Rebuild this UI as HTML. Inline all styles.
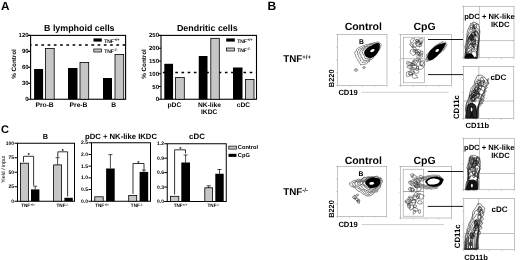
<!DOCTYPE html>
<html><head><meta charset="utf-8">
<style>
html,body{margin:0;padding:0;background:#fff;width:520px;height:260px;overflow:hidden}
svg{display:block;filter:grayscale(1);text-rendering:geometricPrecision;font-family:"Liberation Sans",sans-serif;font-weight:bold}
</style></head><body>
<svg width="520" height="260" viewBox="0 0 520 260">
<!-- ============ PANEL A ============ -->
<text x="0.9" y="9.6" font-size="11.8">A</text>
<!-- chart A1 -->
<text x="79.3" y="31.3" font-size="8.9" text-anchor="middle">B lymphoid cells</text>
<g stroke="#000" stroke-width="1.1" fill="none">
  <rect x="30.6" y="35.4" width="95" height="63.85"/>
  <path d="M27.8 35.4H30.6M27.8 51.4H30.6M27.8 67.3H30.6M27.8 83.3H30.6M27.8 99.25H30.6"/>
</g>
<g font-size="6" text-anchor="end">
  <text x="28.6" y="37.4">120</text><text x="28.6" y="53.4">90</text><text x="28.6" y="69.3">60</text><text x="28.6" y="85.3">30</text><text x="28.6" y="101.25">0</text>
</g>
<text transform="translate(15.6 64) rotate(-90)" font-size="6.3" text-anchor="middle">% Control</text>
<line x1="30.6" y1="45" x2="125" y2="45" stroke="#000" stroke-width="1.4" stroke-dasharray="2.7 3.55" stroke-dashoffset="1.75"/>
<g>
  <rect x="34.1" y="69" width="9" height="30.25" fill="#000"/>
  <rect x="45.4" y="48.4" width="8.8" height="50.85" fill="#c6c6c6" stroke="#000" stroke-width="0.8"/>
  <rect x="68" y="68" width="9.5" height="31.25" fill="#000"/>
  <rect x="80" y="62.4" width="8.7" height="36.85" fill="#c6c6c6" stroke="#000" stroke-width="0.8"/>
  <rect x="103" y="78" width="9" height="21.25" fill="#000"/>
  <rect x="115" y="54.4" width="8.7" height="44.85" fill="#c6c6c6" stroke="#000" stroke-width="0.8"/>
</g>
<rect x="93.5" y="38.4" width="8.3" height="3.2" fill="#000"/>
<rect x="93.8" y="49" width="7.8" height="3" fill="#c6c6c6" stroke="#000" stroke-width="0.7"/>
<text x="104.2" y="42.5" font-size="5">TNF<tspan font-size="4" dy="-2">+/+</tspan></text>
<text x="104.2" y="53.3" font-size="5">TNF<tspan font-size="4" dy="-2">-/-</tspan></text>
<g font-size="6.7" text-anchor="middle">
  <text x="44.6" y="107.2">Pro-B</text><text x="78.5" y="107.2">Pre-B</text><text x="113.6" y="107.2">B</text>
</g>

<!-- chart A2 -->
<text x="207.3" y="31.3" font-size="8.9" text-anchor="middle">Dendritic cells</text>
<g stroke="#000" stroke-width="1.1" fill="none">
  <rect x="161" y="35.4" width="95.5" height="63.85"/>
  <path d="M158.3 35.4H161M158.3 48.2H161M158.3 61H161M158.3 73.7H161M158.3 86.5H161M158.3 99.25H161"/>
</g>
<g font-size="6" text-anchor="end">
  <text x="159" y="37.4">250</text><text x="159" y="50.2">200</text><text x="159" y="63">150</text><text x="159" y="75.7">100</text><text x="159" y="88.5">50</text><text x="159" y="101.25">0</text>
</g>
<text transform="translate(145.6 64) rotate(-90)" font-size="6.3" text-anchor="middle">% Control</text>
<line x1="161.5" y1="72.5" x2="256" y2="72.5" stroke="#000" stroke-width="1.4" stroke-dasharray="2.6 3.6" stroke-dashoffset="4.8"/>
<g>
  <rect x="164.3" y="63.8" width="8.75" height="35.45" fill="#000"/>
  <rect x="175.6" y="77.5" width="8.7" height="21.75" fill="#c6c6c6" stroke="#000" stroke-width="0.8"/>
  <rect x="198.75" y="56" width="8.75" height="43.25" fill="#000"/>
  <rect x="210.8" y="38.3" width="8.5" height="60.95" fill="#c6c6c6" stroke="#000" stroke-width="0.8"/>
  <rect x="233" y="67.5" width="9.5" height="31.75" fill="#000"/>
  <rect x="245.4" y="79.5" width="8.6" height="19.75" fill="#c6c6c6" stroke="#000" stroke-width="0.8"/>
</g>
<rect x="226.2" y="38.4" width="8.6" height="3.2" fill="#000"/>
<rect x="226.5" y="48" width="8" height="3" fill="#c6c6c6" stroke="#000" stroke-width="0.7"/>
<text x="237.2" y="42.5" font-size="5">TNF<tspan font-size="4" dy="-2">+/+</tspan></text>
<text x="237.2" y="52.3" font-size="5">TNF<tspan font-size="4" dy="-2">-/-</tspan></text>
<g font-size="6.7" text-anchor="middle">
  <text x="174.4" y="107.2">pDC</text><text x="209.5" y="107.1">NK-like</text><text x="209.2" y="113.6">IKDC</text><text x="243.4" y="107.2">cDC</text>
</g>

<!-- ============ PANEL C ============ -->
<text x="1" y="132.9" font-size="11">C</text>
<text transform="translate(4.9 169.2) rotate(-90)" font-size="5.2" font-weight="normal" text-anchor="middle">Yield / input</text>
<!-- C1 -->
<text x="45.3" y="138.6" font-size="7.3" text-anchor="middle">B</text>
<g stroke="#000" stroke-width="1" fill="none">
  <rect x="17.5" y="143.25" width="57" height="58"/>
  <path d="M14.5 143.25H17.5M14.5 157.75H17.5M14.5 172.25H17.5M14.5 186.75H17.5M14.5 201.25H17.5"/>
</g>
<g font-size="5" text-anchor="end">
  <text x="14" y="144.8">100</text><text x="14" y="159.3">75</text><text x="14" y="173.8">50</text><text x="14" y="188.3">25</text><text x="14" y="202.8">0</text>
</g>
<rect x="20.4" y="163.2" width="8" height="38" fill="#c6c6c6" stroke="#000" stroke-width="0.8"/>
<rect x="31" y="189.4" width="8.4" height="11.85" fill="#000"/>
<path d="M35.2 189.4V186.2M33.2 186.2H37.2" stroke="#000" stroke-width="0.7" fill="none"/>
<rect x="53.6" y="164.9" width="8" height="36.3" fill="#c6c6c6" stroke="#000" stroke-width="0.8"/>
<path d="M57.6 164.9V157.7M55.6 157.7H59.6" stroke="#000" stroke-width="0.7" fill="none"/>
<rect x="64.4" y="197.8" width="8.4" height="3.45" fill="#000"/>
<path d="M23.5 162V156.3H33.6V185.5M57.8 157V151.8H67.6V196.5" stroke="#000" stroke-width="0.8" fill="none"/>
<g font-size="6" text-anchor="middle"><text x="28.6" y="157">*</text><text x="62.7" y="153">*</text></g>
<g font-size="4.6" text-anchor="middle">
  <text x="28.1" y="207">TNF<tspan font-size="3.3" dy="-1.3">+/+</tspan></text>
  <text x="62.6" y="207">TNF<tspan font-size="3.3" dy="-1.3">-/-</tspan></text>
</g>

<!-- C2 -->
<text x="121" y="138.8" font-size="7.7" text-anchor="middle">pDC + NK-like IKDC</text>
<g stroke="#000" stroke-width="1" fill="none">
  <rect x="91.5" y="142.75" width="59" height="58.5"/>
  <path d="M88.5 142.75H91.5M88.5 154.45H91.5M88.5 166.15H91.5M88.5 177.85H91.5M88.5 189.55H91.5M88.5 201.25H91.5"/>
</g>
<g font-size="5" text-anchor="end">
  <text x="88" y="144.3">2.5</text><text x="88" y="156">2.0</text><text x="88" y="167.7">1.5</text><text x="88" y="179.4">1.0</text><text x="88" y="191.1">0.5</text><text x="88" y="202.8">0.0</text>
</g>
<rect x="94.8" y="196.8" width="8.4" height="4.45" fill="#c6c6c6" stroke="#000" stroke-width="0.8"/>
<rect x="106.1" y="168.5" width="8.6" height="32.75" fill="#000"/>
<path d="M110.4 168.5V154.6M108.4 154.6H112.4" stroke="#000" stroke-width="0.7" fill="none"/>
<rect x="128.7" y="195.4" width="8" height="5.85" fill="#c6c6c6" stroke="#000" stroke-width="0.8"/>
<rect x="139.6" y="171.9" width="8.6" height="29.35" fill="#000"/>
<path d="M143.9 171.9V170.2M141.9 170.2H145.9" stroke="#000" stroke-width="0.7" fill="none"/>
<path d="M133 194V163.5H144V170" stroke="#000" stroke-width="0.8" fill="none"/>
<g font-size="6" text-anchor="middle"><text x="138.3" y="164.5">*</text></g>
<g font-size="4.6" text-anchor="middle">
  <text x="102.1" y="207">TNF<tspan font-size="3.3" dy="-1.3">+/+</tspan></text>
  <text x="136.9" y="207">TNF<tspan font-size="3.3" dy="-1.3">-/-</tspan></text>
</g>

<!-- C3 -->
<text x="197" y="138.6" font-size="7.9" text-anchor="middle">cDC</text>
<g stroke="#000" stroke-width="1" fill="none">
  <rect x="167.25" y="143.75" width="59" height="57.75"/>
  <path d="M164.25 143.75H167.25M164.25 158.2H167.25M164.25 172.6H167.25M164.25 187.1H167.25M164.25 201.5H167.25"/>
</g>
<g font-size="5" text-anchor="end">
  <text x="164" y="145.3">1.2</text><text x="164" y="159.8">0.9</text><text x="164" y="174.2">0.6</text><text x="164" y="188.7">0.3</text><text x="164" y="203.1">0.0</text>
</g>
<rect x="170.4" y="196.3" width="8.4" height="5.2" fill="#c6c6c6" stroke="#000" stroke-width="0.8"/>
<rect x="181.3" y="162.5" width="8.7" height="39" fill="#000"/>
<path d="M185.6 162.5V155M183.6 155H187.6" stroke="#000" stroke-width="0.7" fill="none"/>
<rect x="204.8" y="187.8" width="7.8" height="13.7" fill="#c6c6c6" stroke="#000" stroke-width="0.8"/>
<path d="M208.7 187.8V185.8M206.5 185.8H210.9" stroke="#000" stroke-width="0.7" fill="none"/>
<rect x="215.3" y="173.75" width="8.4" height="27.75" fill="#000"/>
<path d="M219.5 173.75V169.5M217.5 169.5H221.5" stroke="#000" stroke-width="0.7" fill="none"/>
<path d="M174.6 194.5V149.8H185.5V153.5" stroke="#000" stroke-width="0.8" fill="none"/>
<g font-size="6" text-anchor="middle"><text x="180.3" y="151">*</text></g>
<g font-size="4.6" text-anchor="middle">
  <text x="180.6" y="207">TNF<tspan font-size="3.3" dy="-1.3">+/+</tspan></text>
  <text x="213.6" y="207">TNF<tspan font-size="3.3" dy="-1.3">-/-</tspan></text>
</g>
<rect x="228.8" y="146.1" width="7.6" height="3" fill="#c6c6c6" stroke="#000" stroke-width="0.7"/>
<rect x="228.5" y="153.8" width="8" height="3.1" fill="#000"/>
<text x="237.8" y="149.3" font-size="5.7">Control</text>
<text x="237.8" y="157.3" font-size="5.7">CpG</text>

<!-- ============ PANEL B ============ -->
<text x="267.4" y="9.6" font-size="12">B</text>
<text x="283.2" y="62" font-size="9.8">TNF<tspan font-size="6" dy="-3.4">+/+</tspan></text>
<text x="283.2" y="195" font-size="9.8">TNF<tspan font-size="6" dy="-3.4">-/-</tspan></text>

<rect x="337.5" y="34.5" width="49.5" height="50.8" fill="none" stroke="#999" stroke-width="0.6"/>
<line x1="335.9" y1="85.3" x2="337.5" y2="85.3" stroke="#aaa" stroke-width="0.5"/>
<line x1="337.5" y1="85.3" x2="337.5" y2="86.9" stroke="#aaa" stroke-width="0.5"/>
<line x1="335.9" y1="72.6" x2="337.5" y2="72.6" stroke="#aaa" stroke-width="0.5"/>
<line x1="349.9" y1="85.3" x2="349.9" y2="86.9" stroke="#aaa" stroke-width="0.5"/>
<line x1="335.9" y1="59.9" x2="337.5" y2="59.9" stroke="#aaa" stroke-width="0.5"/>
<line x1="362.2" y1="85.3" x2="362.2" y2="86.9" stroke="#aaa" stroke-width="0.5"/>
<line x1="335.9" y1="47.2" x2="337.5" y2="47.2" stroke="#aaa" stroke-width="0.5"/>
<line x1="374.6" y1="85.3" x2="374.6" y2="86.9" stroke="#aaa" stroke-width="0.5"/>
<line x1="335.9" y1="34.5" x2="337.5" y2="34.5" stroke="#aaa" stroke-width="0.5"/>
<line x1="387" y1="85.3" x2="387" y2="86.9" stroke="#aaa" stroke-width="0.5"/>
<path d="M362.2 51.3L362.8 50.3L363.7 50.4L364.2 48.9L365 48.6L365.6 48.9L367.5 47.3L368.3 47.6L368.7 46.8L370.1 46.6L371.1 46.6L371.4 46.4L373.4 46.4L373.7 45.2L373.8 45.2L375.7 45.3L375.6 46.2L376.1 46L376.8 45.6L377.3 47L377.1 46.7L377.7 47L377.5 48.6L377.4 49L377.3 49.2L376.4 50.3L375.9 50.7L375.5 51.5L374 53.2L374.1 53.7L372.7 54.3L371.7 55.5L370.8 55.7L370.4 56.6L370 57.7L369.6 57.7L368.5 58.1L367.1 58.6L366.5 58.3L365.2 58.7L365.5 58.1L365.4 58L364.3 57.3L364.7 56.5L363.9 55.2L363.4 54.9L363 54.2L362.9 53.8L362.5 52.7L362.3 53.1L362.1 51.4Z" fill="none" stroke="#2d2d2d" stroke-width="0.6"/>
<path d="M359.6 51.7L360.9 50.7L361.2 50L361.6 49.1L363.4 48.8L363.9 47.6L365.1 47.6L367.1 46.2L368.6 46.8L369.4 45.9L370 44.8L371.7 44.5L372.5 44.4L373.3 44.5L374.7 44.9L375.8 44.5L376.5 44.8L377.2 44.6L378.5 45.7L378.7 45.9L378.4 45.9L378.8 46.4L379 47.6L378.7 48.4L378.5 49.8L376.6 50L377 51.3L376.3 52.2L374.3 53.6L374.2 54.2L372.4 55.4L372.5 56.9L370.5 57.2L369.5 57.9L369.6 58.6L368.6 59.4L367.4 60.2L366.1 60.3L364.9 60.3L363.8 60.4L364.2 60.4L363 59.9L362.4 58.7L362.7 58L361.3 57.5L360.9 55.6L361.2 55L360.3 54L359.7 53.9L359.7 53.2L359.7 52.3Z" fill="none" stroke="#353535" stroke-width="0.6"/>
<path d="M357.2 52L358.4 50.4L358.5 49.6L359.7 49.1L361.7 48.2L362.9 47.5L363.9 46.5L365.3 46.5L366.7 45.9L368.1 45.1L369.9 44.3L371.9 43.5L372.4 44.1L374.1 43L375.8 43.8L375.9 43.1L376.8 43.2L378.3 43.3L379.2 43.5L379 45.1L379.7 45.4L380.4 46.2L379.7 46.6L379.7 48.8L379.5 49.4L377.9 50.2L377.5 51.7L375.9 52.3L375.1 54L374.5 55.2L372.4 56.9L371.7 57.7L370.3 58.8L369.3 60.3L368.1 60.6L367.4 61.4L366.3 61.4L365.3 62.2L363.5 62.2L362.2 62.3L362 62.4L361.4 61.7L360.5 60.9L360.1 58.9L360 58.6L358.5 56.7L359 55.9L358 54.7L357.3 54.5L358.2 54.1L357.4 52.1Z" fill="none" stroke="#3d3d3d" stroke-width="0.6"/>
<path d="M354.5 52.2L356.1 51.3L356.6 49.3L357.6 48.2L359.9 47.2L361.4 46.5L362.8 45.9L365.1 45.5L365.8 44.4L367.6 44.4L370 43.9L371.7 43.3L373.5 42.9L374 42.8L375.7 42.5L377.1 41.9L377.8 42.2L378.8 42.2L380.4 43.4L381.1 44.1L381.1 45L381.1 45.7L380.9 46.3L380.1 47.9L379.7 49L379.1 50.2L377.6 51.7L376.7 52.7L375.3 54.3L373.8 56.2L373.5 57.4L371.9 59.4L369.8 59.7L369.4 61.9L368.2 61.8L366.9 63.3L366.5 63.9L364 64.3L362.5 64.4L360.6 65.1L360.5 63.9L359.3 63L359.1 62.1L358.2 60.9L357.5 59.1L356.6 58.2L356 56.7L355.5 56.2L355.6 55.1L354.7 53.9L354.8 52.5Z" fill="none" stroke="#464646" stroke-width="0.6"/>
<path d="M364.3 51.5 C366 48.5 371 45.2 376.5 43.3 C379 42.6 380 43.5 379.8 45.5 C379.6 49 378.5 52.5 375.5 55.5 C373 57.8 369.5 58.6 367 57.3 C364.8 56.2 363.6 53.5 364.3 51.5 Z" fill="#000"/>
<path d="M374.4 49.5L374.4 49.8L374.5 50.1L374.4 50.5L374.1 50.8L373.8 51.2L373.5 51.5L373 51.8L372.5 52L372.1 52.1L371.6 52.2L371.2 52.1L370.9 52L370.6 51.9L370.3 51.7L370.2 51.4L370.3 51.1L370.4 50.7L370.6 50.4L371 50L371.4 49.7L371.8 49.5L372.3 49.3L372.7 49.1L373.2 49L373.6 49L374 49.1L374.3 49.3Z" fill="#fff"/>
<path d="M357.2 70L357.1 70.2L356.9 70.4L356.8 70.5L356.7 70.7L356.5 70.9L356.3 70.9L356 70.9L355.7 70.9L355.5 70.8L355.3 70.7L355.1 70.5L355 70.4L354.9 70.2L354.9 70L354.9 69.8L354.9 69.6L355 69.4L355.3 69.3L355.5 69.3L355.8 69.2L356 69.1L356.3 69.1L356.5 69.2L356.7 69.3L356.9 69.4L357.1 69.6L357.1 69.8Z" fill="none" stroke="#444" stroke-width="0.45"/>
<path d="M357.9 70L357.9 70.3L357.7 70.7L357.5 70.9L357.1 71.1L356.7 71.2L356.4 71.3L356 71.4L355.6 71.3L355.3 71.1L354.9 71.1L354.4 71L354.1 70.7L354.2 70.3L354.3 70L354.4 69.7L354.5 69.4L354.7 69.2L354.9 68.9L355.2 68.7L355.6 68.6L356 68.6L356.4 68.6L356.9 68.6L357.1 68.9L357.2 69.3L357.3 69.5L357.7 69.7Z" fill="none" stroke="#444" stroke-width="0.45"/>
<path d="M364.9 67.5L364.9 67.7L364.8 67.8L364.7 67.9L364.5 68L364.4 68.1L364.2 68.1L364 68.1L363.8 68.1L363.7 68L363.5 68L363.3 67.9L363.1 67.8L363.2 67.6L363.2 67.5L363.2 67.4L363.3 67.2L363.4 67.1L363.5 67L363.6 66.9L363.8 66.8L364 66.8L364.2 66.8L364.4 66.9L364.5 67L364.6 67.1L364.7 67.2L364.8 67.4Z" fill="none" stroke="#444" stroke-width="0.45"/>
<path d="M365.5 67.5L365.4 67.7L365.2 67.9L365 68.1L364.8 68.3L364.5 68.4L364.3 68.4L364 68.4L363.7 68.4L363.5 68.4L363.2 68.3L362.8 68.2L362.6 68L362.7 67.7L362.9 67.5L362.9 67.3L362.9 67.1L363 66.9L363.2 66.7L363.4 66.6L363.7 66.5L364 66.4L364.3 66.5L364.6 66.6L364.8 66.7L364.9 67L365 67.1L365.3 67.3Z" fill="none" stroke="#444" stroke-width="0.45"/>
<rect x="400.5" y="34.5" width="50.8" height="51" fill="none" stroke="#999" stroke-width="0.6"/>
<line x1="398.9" y1="85.5" x2="400.5" y2="85.5" stroke="#aaa" stroke-width="0.5"/>
<line x1="400.5" y1="85.5" x2="400.5" y2="87.1" stroke="#aaa" stroke-width="0.5"/>
<line x1="398.9" y1="72.8" x2="400.5" y2="72.8" stroke="#aaa" stroke-width="0.5"/>
<line x1="413.2" y1="85.5" x2="413.2" y2="87.1" stroke="#aaa" stroke-width="0.5"/>
<line x1="398.9" y1="60" x2="400.5" y2="60" stroke="#aaa" stroke-width="0.5"/>
<line x1="425.9" y1="85.5" x2="425.9" y2="87.1" stroke="#aaa" stroke-width="0.5"/>
<line x1="398.9" y1="47.2" x2="400.5" y2="47.2" stroke="#aaa" stroke-width="0.5"/>
<line x1="438.6" y1="85.5" x2="438.6" y2="87.1" stroke="#aaa" stroke-width="0.5"/>
<line x1="398.9" y1="34.5" x2="400.5" y2="34.5" stroke="#aaa" stroke-width="0.5"/>
<line x1="451.3" y1="85.5" x2="451.3" y2="87.1" stroke="#aaa" stroke-width="0.5"/>
<rect x="403.6" y="37.2" width="20.8" height="45.6" fill="none" stroke="#999" stroke-width="0.6"/>
<line x1="400.5" y1="58.6" x2="424.4" y2="58.6" stroke="#999" stroke-width="0.6"/>
<path d="M419 53.4L418.6 54.7L417.5 55L416.4 54.6L415.3 54.3L415.6 53L415.1 52.2L414.8 51.1L415.3 49.9L416.6 49.8L417.6 49.6L418.6 49.4L419.3 50.1L420.7 50.4L420.5 51.7L419.8 52.7Z" fill="none" stroke="#333" stroke-width="0.55"/>
<path d="M422.2 41.7L421.5 42.3L421 43.8L420.1 43.9L419.4 43.6L418.7 43.1L419 41.9L418.7 41.1L418.8 40L419.3 38.7L420.4 38.9L421.2 38.4L422 38.4L422.4 39L423.3 39.5L422.9 40.8Z" fill="none" stroke="#333" stroke-width="0.55"/>
<path d="M422.7 42.6L421.8 42.9L421.5 43.3L421 43.8L420.2 44.1L419.6 43.4L419.1 43L418.6 42.6L418.8 42L418.4 41.3L419.1 40.9L419.9 40.9L420.6 41.1L421.4 40.9L422.1 41.3L422.3 41.9Z" fill="none" stroke="#333" stroke-width="0.55"/>
<path d="M417.5 42.5L416.8 42.1L416.2 41.9L415.8 41.6L415.8 41L415.3 40.5L415.5 39.9L416 39.5L416.8 39.7L417.3 39.2L417.8 39.4L418.3 39.7L418.8 40.2L418.4 40.8L418.1 41.3L417.9 41.8Z" fill="none" stroke="#333" stroke-width="0.55"/>
<path d="M421.3 43.8L420.9 44.1L420.3 44.3L419.6 44.5L418.6 44.2L417.5 43.8L417 43.2L417.4 42.7L416.4 42L416.7 41.5L417.5 41.3L418.6 41.6L419.5 41.8L420.2 42.3L421.1 42.8L422.2 43.5Z" fill="none" stroke="#333" stroke-width="0.55"/>
<path d="M414.2 38.2L414.6 38.7L414.4 39.6L413.5 40.5L413.4 41.4L412.7 42.4L411.9 42.7L411 43.1L410.8 42.4L410.6 41.9L410.5 41.4L410.2 40.5L411.2 39.6L412 39.1L412.8 38.4L413.4 38.5Z" fill="none" stroke="#333" stroke-width="0.55"/>
<path d="M422.7 54.2L422.3 55L422.4 56.8L421.6 57.1L421 56.8L420.5 56.3L420 55.9L419.7 55L419.6 53.8L419.7 52.5L420.7 52.4L421.1 51.6L421.7 51L422.4 51L422.7 52.1L422.9 53.1Z" fill="none" stroke="#333" stroke-width="0.55"/>
<path d="M418.4 46.3L417.6 46.1L416.8 45.7L415.9 45.1L415.7 43.9L415.3 42.6L416.5 42L417.2 41.7L417.8 40.6L418.8 40.6L419.7 41.3L420 42.5L420.5 43.4L419.9 44.4L420.2 45.7L419.6 46.8Z" fill="none" stroke="#333" stroke-width="0.55"/>
<path d="M421.1 43.8L421.3 44.2L421.9 44.4L421.7 45.1L421.8 45.8L421.2 46.3L420.7 46.5L420.2 46.4L419.5 46.9L419 46.6L419.1 45.8L418.9 45.2L419.4 44.6L419.6 44.1L420 43.5L420.7 43.1Z" fill="none" stroke="#333" stroke-width="0.55"/>
<path d="M413.3 46.2L413.1 46.5L412.7 46.7L411.9 46.5L411.1 46.1L410.5 45.5L410.5 45L409.5 44.3L409.6 43.9L410.1 43.7L410.8 43.9L411.5 44L412.2 44.4L413 44.8L413.9 45.5L413.3 45.8Z" fill="none" stroke="#333" stroke-width="0.55"/>
<path d="M416.2 44.2L416.7 44.7L417.1 45.5L416.7 46.5L415.6 46.9L414.7 47.2L413.8 47.4L413.2 46.9L411.8 47.1L411.8 46.1L412.4 45.2L413.1 44.5L413.4 43.6L414.4 43.1L415.4 43L416.5 43Z" fill="none" stroke="#333" stroke-width="0.55"/>
<path d="M416.2 50L417.4 50.4L418.1 50.8L418.5 51.2L418.9 51.6L418.7 52L418.3 52.4L417.4 52.8L416 52.3L415 52.3L413.8 52.1L413 51.7L413 51.2L413.3 50.8L414.2 50.6L415.2 50.6Z" fill="none" stroke="#333" stroke-width="0.55"/>
<path d="M419.9 53.1L420.1 54.1L420.6 55.2L420.1 55.5L419.7 55.5L419.5 55.8L419 55.9L418.4 55L418 54L417.6 53.1L417.7 52.5L417.5 51.5L417.6 50.8L418.2 51.1L418.8 52L419.3 52.4Z" fill="none" stroke="#333" stroke-width="0.55"/>
<path d="M417.2 41.8L416.6 41.9L416.2 41.5L416 41.2L415.8 40.8L416 40.5L415.8 39.9L416.3 39.6L416.9 39.6L417.4 39.8L417.9 39.7L418.3 40L418.5 40.4L418.6 40.9L417.9 41.1L417.6 41.4Z" fill="none" stroke="#333" stroke-width="0.55"/>
<path d="M415.9 50.7L415.5 52L415.8 53.1L415 53.8L414.4 54.8L413.4 55.9L412.3 54.8L411.5 54.1L410.8 53.4L409.8 52.5L410.3 51.4L410.6 50.1L411.7 49.7L412.9 50.2L413.9 49.3L415.1 49.7Z" fill="none" stroke="#333" stroke-width="0.55"/>
<path d="M416.7 50.5L416.4 51.2L415.3 50.2L414.6 49.9L413.9 49.5L413.1 48.8L412.8 47.9L412.5 47.2L413 47L413.8 47.2L413.9 46.5L414.8 46.9L415.6 47.7L416 48.5L416.5 49.3L416.5 49.8Z" fill="none" stroke="#333" stroke-width="0.55"/>
<path d="M419.6 53L420.8 53.1L422 53.6L421.9 54.2L422.3 54.7L421.4 54.8L421 55L420.2 55.2L419 55.1L418.1 54.4L417.6 53.9L416.6 53.4L416.8 53.1L416.5 52.5L417.5 52.4L418.7 52.7Z" fill="none" stroke="#333" stroke-width="0.55"/>
<path d="M419.3 59.5L419.8 59.7L420.3 59.8L420.4 60.4L420.3 60.9L420.2 61.3L420.3 62.1L419.8 62.4L419.3 62.2L418.9 62.2L418.7 61.7L418.3 61.4L418.1 60.9L418.1 60.3L418.7 60.1L419 59.8Z" fill="none" stroke="#555" stroke-width="0.5"/>
<path d="M419.5 60.1L419.1 60.5L418.4 60.3L417.9 59.9L417.5 59.5L416.8 59.1L416.5 58.4L417.1 58.1L417.2 57.6L417.7 57.5L418.2 57.3L418.8 57.4L419.4 57.9L419.4 58.6L419.4 59.1L420 59.8Z" fill="none" stroke="#555" stroke-width="0.5"/>
<path d="M417 61L416.5 61.4L416 61.6L415.7 62.2L415 62.2L414.4 62L413.7 61.7L414 61L413.7 60.6L413.6 60.1L413.9 59.5L414.7 59.7L415.3 59.6L415.9 59.7L416.3 60.1L417.1 60.4Z" fill="none" stroke="#555" stroke-width="0.5"/>
<path d="M419.7 56.1L419.9 56.7L420.3 57.4L419.6 57.8L419.5 58.3L419.2 58.9L418.5 59.1L418 58.5L417.5 58L417 57.6L417.1 57L416.6 56.1L417.2 55.7L417.8 55.7L418.4 55.9L419 55.6Z" fill="none" stroke="#555" stroke-width="0.5"/>
<path d="M419.9 58.5L420.6 58.2L420.6 59.2L420.5 59.8L420.5 60.4L420.3 61.1L419.9 61.7L419.4 62L418.9 62L418.8 61.1L418.2 61.1L418 60.5L418.2 59.7L418.6 59.1L419 58.8L419.5 58.5Z" fill="none" stroke="#555" stroke-width="0.5"/>
<path d="M415.3 64.9L415.1 65.4L414 65.4L413.4 65.6L412.6 65.7L411.8 65.5L410.6 65.3L410.5 64.8L410.8 64.3L411 64L410.9 63.4L411.9 63.3L412.8 63.4L413.7 63.6L414 64.1L414.8 64.4Z" fill="none" stroke="#333" stroke-width="0.55"/>
<path d="M415.1 62.6L414.9 63L415.1 63.5L414.5 64L413.5 63.9L412.8 64.1L412.2 63.9L411.5 63.8L411.1 63.4L411.1 63L412 62.6L412.5 62.3L413 61.8L413.9 61.8L414.7 61.8L415 62.2Z" fill="none" stroke="#333" stroke-width="0.55"/>
<path d="M409.6 62.2L410.6 62.4L411.6 63L411.7 63.8L411.4 64.5L411 65.1L409.9 65L409.3 65.8L408.2 65.6L407.4 64.8L407.2 64L406.6 63.3L406.5 62.5L407 62L407.5 61.1L408.8 61.8Z" fill="none" stroke="#333" stroke-width="0.55"/>
<path d="M414.3 71.6L414.6 72.6L413.4 73.4L413 74.2L411.8 74.4L410.8 74.8L409.6 75L408.5 74.6L408.8 73.5L409 72.7L408.6 71.8L409.6 71.2L410.4 70.3L411.7 70.3L412.5 70.8L413 71.4Z" fill="none" stroke="#333" stroke-width="0.55"/>
<path d="M423.2 60.7L423.8 60.8L424.2 61.4L424.3 62.4L423.4 63.4L422.8 64L422.3 65.3L421.6 65.4L420.8 65.6L420.5 64.8L420.5 63.9L420.7 63L420.5 62L421.1 60.9L422 60.9L422.7 60.3Z" fill="none" stroke="#333" stroke-width="0.55"/>
<path d="M412.1 67.9L411.9 68.3L411.4 68.8L410.4 68.8L409.3 68.7L408.7 68L408 67.6L406.7 67.1L407 66.5L407.5 66.1L408.3 66L409.1 65.8L410 66.1L411.2 66.1L412.1 66.7L411.6 67.3Z" fill="none" stroke="#333" stroke-width="0.55"/>
<path d="M417.6 66.5L418 66.7L418.4 67L418.5 67.7L418.6 68.6L418.1 69.3L417.6 69.5L417.3 70.4L416.8 70.6L416.4 70.4L416.3 69.6L416.1 68.9L416.4 68.2L416.4 67.3L416.6 66.2L417.2 66.5Z" fill="none" stroke="#333" stroke-width="0.55"/>
<path d="M412.8 74.1L412.5 74.7L412.2 75.4L411.2 74.9L410.6 74.9L409.9 74.9L409.3 74.4L409 73.7L409.2 73.1L409.6 72.5L410.3 72.5L410.7 71.6L411.5 71.7L412 72.4L412.4 72.9L412.6 73.4Z" fill="none" stroke="#333" stroke-width="0.55"/>
<path d="M416.3 65.3L417.6 65.7L416.9 67L416.4 67.8L416.1 68.6L415.6 69.6L414.5 69.8L413.5 69.5L412.7 69L412.9 67.9L412 67.2L411.9 66.1L412.7 65.3L413.8 65.1L414.6 64.8L415.5 64.8Z" fill="none" stroke="#333" stroke-width="0.55"/>
<path d="M418.8 69L418.2 70.3L418.7 71.1L418.9 72.2L418.1 73.1L416.9 73.3L415.9 73.2L415 73.2L414.5 72.4L413.1 72L413.5 70.7L414.4 70L415 69.3L415.7 68.4L416.8 68.1L417.8 68.6Z" fill="none" stroke="#333" stroke-width="0.55"/>
<path d="M423.1 62.4L423.7 63L424.2 63.7L424.5 64.4L424.5 65.2L424.2 66L423.3 66.2L422.3 65.3L421.4 65.6L420.4 65.2L419.8 64.4L419.7 63.5L420.1 62.9L420.7 62.6L421.3 62.2L422.1 61.4Z" fill="none" stroke="#333" stroke-width="0.55"/>
<path d="M417.4 63.2L416.4 63.7L416.4 64.9L415.5 65.5L414.5 65.4L413.9 64.5L413.1 64L413 63.1L412.8 62.1L412.7 60.8L414 60.7L414.8 60.6L415.6 60.5L416.7 60.3L417.2 61.3L417.7 62.2Z" fill="none" stroke="#333" stroke-width="0.55"/>
<path d="M423.4 68L422.5 68.6L421.8 69.1L421.1 69.4L420.2 69.2L418.9 69.5L418.5 68.5L418.6 67.6L418.8 66.8L418.6 65.9L419.3 65.3L420.3 65.1L421.3 64.9L421.7 66.1L422.6 66.3L423.3 67Z" fill="none" stroke="#333" stroke-width="0.55"/>
<path d="M417.6 78L416.2 77.9L415.6 78.2L414.7 78.4L413.5 78.3L412.8 77.3L411.9 76.5L412.3 75.7L412.6 75.1L412.3 74L413.4 73.8L414.5 74.1L415.4 74.9L416.5 75.2L416.8 76.1L417.7 77Z" fill="none" stroke="#333" stroke-width="0.55"/>
<path d="M410.1 75.8L409 76.2L407.9 76.7L406.9 76.3L406.1 75.7L406.7 74.5L406.6 73.7L406.3 72.5L407.6 71.9L408.7 71.4L409.7 71.7L410.6 71.9L411.2 72.5L412.3 73L411.9 74.2L410.5 74.8Z" fill="none" stroke="#333" stroke-width="0.55"/>
<path d="M414.4 68.3L414.2 68.7L413.4 69L413.3 69.5L412.3 69.8L411.4 69.6L410.7 69.4L410.3 69.1L409.8 68.8L409.8 68.4L409.9 67.9L411.3 67.8L412 67.7L412.9 67.4L413.8 67.6L414.5 67.8Z" fill="none" stroke="#333" stroke-width="0.55"/>
<path d="M410.9 62.9L411.8 63.4L412.6 64L412.1 64.4L412.6 64.9L412.8 65.6L411.8 65.5L410.9 65.4L410 64.9L409.2 64.5L408.7 64L407.5 63.3L407.9 62.9L408.9 63L409.1 62.6L410 62.7Z" fill="none" stroke="#333" stroke-width="0.55"/>
<path d="M429.7 57L429.5 55.4L430.8 54.8L430.2 53.4L431.6 52.7L431.3 52.4L432 51.3L433.3 50.4L434.5 49.3L434.9 48.4L436.1 47.8L436.4 47.9L437.6 46.6L438.4 46.9L438.6 46.5L439.3 45.5L440 45.7L441.3 45.9L442.2 46.4L441.7 46.5L441.8 47.1L442.6 47.7L441.6 48.5L441.2 49.5L441.1 49.6L440.8 51.2L439.3 52L438.5 52.4L437.9 53.4L436.5 53.3L435.6 54.4L435.3 55.4L433.6 56.1L432.7 56.1L432.2 57.4L431.8 57.3L430.9 57.4L430 57.8L430.2 56.6Z" fill="none" stroke="#2e2e2e" stroke-width="0.55"/>
<path d="M428.5 57.2L428.7 56.7L429.4 55.3L429.8 53.8L430.6 53.1L431.4 52.2L432.1 51.1L432.4 49.9L433.9 49L434.8 48.5L435.1 47.9L436 47.3L437.7 46L438.6 46L438.9 45.5L439.8 45.3L441.2 45.4L441.4 44.8L442.8 45.2L442.6 46.1L443.6 46.1L443.2 47.1L442.9 48L442.5 48.7L441.5 49.4L441 50.9L440 51.9L439.2 52.9L438.3 53.2L436.7 53.7L435.5 55.4L435.2 56.1L433.3 56.8L432.1 57.8L431.7 58.1L430.7 58.2L430 59.2L429.1 58.2L429.2 58Z" fill="none" stroke="#343434" stroke-width="0.55"/>
<path d="M427.7 57.8L427.8 56.7L428.6 55.8L429.2 53.9L429.5 52.8L430.1 52.2L430.7 50.8L432.4 50.1L433.1 49.1L434.7 47.4L435.8 47.3L436.4 46L438.1 45.3L438.3 44.6L440.1 44.5L441.1 44.1L441.8 44.5L442.5 44.1L443.9 44.3L444.3 44.9L444.5 45.1L444.4 46.1L443.6 47.1L443 48.2L442.9 49.4L441.6 50.3L440.4 52.1L439.7 52.8L438.1 53.9L436.9 54.4L436.5 55.6L434.7 56.6L433.7 57.6L431.7 57.8L430.7 58.5L429.6 59.7L429.2 59.6L428.6 59.2L428.4 58.7Z" fill="none" stroke="#3a3a3a" stroke-width="0.55"/>
<path d="M426.1 59.3L426.6 57.6L427.6 56.4L427.9 54.6L428.3 53.4L429.6 52.6L430.6 51.3L431.7 49.5L433.4 49L434.1 47L435.4 46.5L436.9 45.7L437.8 44.8L438.9 43.7L439.8 44L441.7 42.7L442.8 43.1L443.1 43.5L444.6 43.7L445.1 43.6L445.5 45.1L446.1 45.5L445.1 47.1L444 48.4L443.9 48.8L442.5 50.3L440.9 51.8L440.5 52.9L438.3 53.9L437.6 55.4L436.2 55.5L435 57.2L432.6 57.7L431.1 59.3L430 60L428.7 60.3L427.8 60.3L427 60.6L427.5 59.3Z" fill="none" stroke="#404040" stroke-width="0.55"/>
<path d="M425.4 60L426.4 58L426.2 56.2L426.6 54.5L427.7 53.7L429.5 52.5L429.9 50.9L431.5 49.5L432.2 48.7L434.1 46.6L434.9 45.6L437.1 44.6L438.1 44.5L438.9 43.2L440.6 43.1L441.7 41.8L442.9 41.6L444.5 42.5L445.4 41.8L446.1 43.4L446.5 43.9L447.1 45.1L446.1 46.4L445 47.6L444.8 49.2L443 50.7L442.2 51.2L440.2 52.7L438.5 54.4L437.6 55.4L436.5 56.4L434 57.3L432.5 59.2L431.1 59.6L429.6 60.1L428.5 60.8L426.7 61.9L426.8 61.3L425.8 60.7Z" fill="none" stroke="#464646" stroke-width="0.55"/>
<path d="M445.9 42.7 C445.5 45.5 442 50.5 438.6 54.3 C436 57.2 433 60.3 430 60.4 C427.8 60.4 427 58.3 427.6 55.5 C428.5 52 431.5 48.8 435 46.5 C438.5 44.3 442.5 43 445.9 42.7 Z" fill="#000"/>
<path d="M438.8 49.3L438.9 49.5L438.9 49.8L438.9 50.2L438.8 50.5L438.6 50.9L438.4 51.2L438 51.6L437.6 51.8L437.2 51.9L436.9 52L436.5 52.1L436.1 52.1L435.8 52L435.6 51.7L435.5 51.5L435.4 51.2L435.5 50.8L435.6 50.5L435.8 50.1L436.1 49.8L436.4 49.5L436.8 49.2L437.2 49L437.6 48.9L437.9 48.9L438.3 49L438.5 49.1Z" fill="#fff"/>
<line x1="428" y1="39.5" x2="463" y2="39.5" stroke="#000" stroke-width="0.9"/>
<line x1="428" y1="74.6" x2="463" y2="74.6" stroke="#000" stroke-width="0.9"/>
<rect x="463.5" y="6.25" width="50.5" height="51.5" fill="none" stroke="#999" stroke-width="0.6"/>
<line x1="461.9" y1="57.8" x2="463.5" y2="57.8" stroke="#aaa" stroke-width="0.5"/>
<line x1="463.5" y1="57.8" x2="463.5" y2="59.4" stroke="#aaa" stroke-width="0.5"/>
<line x1="461.9" y1="44.9" x2="463.5" y2="44.9" stroke="#aaa" stroke-width="0.5"/>
<line x1="476.1" y1="57.8" x2="476.1" y2="59.4" stroke="#aaa" stroke-width="0.5"/>
<line x1="461.9" y1="32" x2="463.5" y2="32" stroke="#aaa" stroke-width="0.5"/>
<line x1="488.8" y1="57.8" x2="488.8" y2="59.4" stroke="#aaa" stroke-width="0.5"/>
<line x1="461.9" y1="19.1" x2="463.5" y2="19.1" stroke="#aaa" stroke-width="0.5"/>
<line x1="501.4" y1="57.8" x2="501.4" y2="59.4" stroke="#aaa" stroke-width="0.5"/>
<line x1="461.9" y1="6.2" x2="463.5" y2="6.2" stroke="#aaa" stroke-width="0.5"/>
<line x1="514" y1="57.8" x2="514" y2="59.4" stroke="#aaa" stroke-width="0.5"/>
<line x1="479.4" y1="6.25" x2="479.4" y2="57.75" stroke="#999" stroke-width="0.6"/>
<line x1="479.4" y1="40.6" x2="514" y2="40.6" stroke="#999" stroke-width="0.6"/>
<path d="M466 57.6L466.9 56.5L467.1 55.5L466.1 54.6L466.6 53L466.9 52.4L467.1 51.8L467.4 50.6L467.8 48.9L468.1 48.6L468.5 47.6L468.5 46L468.8 45.5L470.2 44.7L470.7 43.8L470.4 43.8L471.7 43.8L471.6 43.4L472.3 43.5L473.4 43.5L474.4 43.9L474.8 44L475.2 44.2L475.6 44.2L477.1 44.3L476.7 45.1L477.5 45.3L477.2 45.5L476.8 46.5L477.2 47.7L476.8 48.4L476.7 49.2L477.5 50.7L476.9 51.2L476.1 51.9L476.5 54.1L476.6 54.3L476.7 55.4L475.5 56.9L475.9 57.5L473.3 57.7L469.6 57.4Z" fill="none" stroke="#1a1a1a" stroke-width="0.55"/>
<path d="M465.7 57.8L465.7 56.3L466.6 55.4L466.3 54L466.6 52.7L467 50.5L467.2 49.4L467.5 47.9L467.9 46.6L467.7 45.4L468.1 44.1L469 43.4L468.6 42.1L469.2 41.4L470.1 40.4L471 39.9L471.6 39.2L471.5 39.3L472.7 39.5L473.9 38.8L474.2 39.5L475 39.9L475.1 39.6L476.8 40.6L477 40.1L477.4 40.7L477.8 41.3L477.5 42.1L478.1 43.2L477.9 44.6L477.8 45.1L477.4 47.4L477.4 48.6L477.7 48.9L477.2 50.9L476.2 52L476.6 53.7L476.9 55L476.7 56.5L476.8 58.6L472.5 58.4L469.1 57.8Z" fill="none" stroke="#1a1a1a" stroke-width="0.55"/>
<path d="M466.2 58.2L465.8 55.9L466.2 55.1L465.9 53.2L465.7 51.1L466.2 49.3L467 48L467.2 46.5L467.2 44.1L467.7 43.3L468.4 41L468.2 39.7L468.9 38.9L469.3 37L470.6 37L471 35L471.1 35L472.6 34.7L472.3 34.6L474 34.7L475 34.9L475.5 34.9L475.7 36.1L477.3 35.8L477.2 36L477.3 37.1L478 37.9L478.1 38.1L478.3 39.8L478.1 42.1L478.3 42.5L478.5 45.1L477.6 46.7L477 48.1L476.9 49.8L477.4 51.6L476.7 53L477.4 54.1L476.3 56.3L476.1 57.5L472.4 57.8L469.6 58Z" fill="none" stroke="#1a1a1a" stroke-width="0.55"/>
<path d="M465 58.4L465.7 55.6L466 54L466.1 52L466.2 50.2L466.1 47.3L467.1 45.3L466.9 44.5L467 41.9L467.3 40L468.2 38.3L467.9 36.9L468.5 34.6L468.8 34.3L469.9 32.8L470.6 32L470.8 31.5L472.5 30.8L472.8 30.6L473.5 31.4L474.3 31.3L475 31.5L475.8 32L476.5 31.8L477.5 32.4L478.4 33.5L477.8 33.9L478.6 35.3L478.8 36.8L479 39.1L479.2 41L478.9 42.7L478.4 44.2L478 45.6L478.1 47.6L478 49.8L476.7 52.3L477.2 53.3L477.4 56.3L477.3 58L472.7 57.7L469.3 58.2Z" fill="none" stroke="#1a1a1a" stroke-width="0.55"/>
<path d="M465 57.5L465.3 55.2L465.3 53.1L465.6 50.5L466.2 48.1L465.5 46.4L466.9 44.3L467 41.4L466.6 39.5L466.9 37.3L467.5 35.5L468 33.9L469.1 31.1L469.3 30.5L469.4 29.4L470.6 27.5L471.2 27.7L472.2 26.9L473.5 26.3L473.8 27.3L475.2 27.3L476.2 26.7L476.8 27.7L477.9 28.8L478 29.2L478.3 29.6L479 31.1L479.4 31.1L478.6 34.1L479.1 35.7L479.3 38.2L479.1 39.9L478.5 42L478.5 43.9L478.6 46.1L478.3 49.2L477.9 50.8L477.5 53.1L477.7 56L476.8 57.9L473.5 57.6L469.5 58.1Z" fill="none" stroke="#1a1a1a" stroke-width="0.55"/>
<path d="M464.7 58.3L464.9 55.3L465.3 52.3L465.6 50L464.9 47.6L465.3 45.2L466.2 41.6L466.9 39.5L467.2 36.7L466.8 35.2L467.2 32.5L467.5 30.5L468.9 27.8L469.4 26.5L470.1 25.6L470.5 23.3L471.3 23.4L472.8 23.4L472.8 22L474.5 22.3L475.2 22.4L476 23.3L477.4 23.5L477.6 24.7L478.5 24.5L478.6 25.7L479.5 27.2L479 28L479.8 30.7L479.8 32.8L479.5 35.5L479.2 37L478.7 39.5L478.5 41.7L478.3 45.1L477.8 46.9L477.7 49.6L478.4 53.1L478.1 54.7L477.7 58.3L472.9 57.7L469 57.9Z" fill="none" stroke="#1a1a1a" stroke-width="0.55"/>
<path d="M469.7 50.3L470.3 50L471.2 49.7L471.3 51L471.5 51.6L471.9 52.2L471.9 53L471.5 53.7L470.8 54L470.1 53.9L469.7 53.1L468.7 53.4L468.2 52.6L468.4 51.8L468.7 51.1L469.2 50.7Z" fill="none" stroke="#1a1a1a" stroke-width="0.6"/>
<path d="M473.9 32.8L474.7 32.8L474.6 33.7L475.3 34.3L475.5 35.3L474.6 36L473.8 36.1L473.2 36.5L472.4 37L471.9 36.2L471.1 35.8L471.5 34.8L472 34.1L472 33.2L472.4 32.2L473.3 32.1Z" fill="none" stroke="#1a1a1a" stroke-width="0.6"/>
<path d="M471.6 34.2L471.8 35.4L472.5 35.3L472.6 36.1L472.8 37L472.5 37.9L471.9 38.4L471.3 38.3L470.8 38.7L469.9 39.3L469.9 38L469.6 37.3L469.9 36.4L470.1 35.7L470.4 34.9L470.9 33.9Z" fill="none" stroke="#1a1a1a" stroke-width="0.6"/>
<path d="M472.5 45.8L473.1 45.9L473.4 46.8L473.6 47.5L474.2 47.9L474 48.7L474.1 49.6L473.6 50L473.1 49.7L472.7 49.6L472.2 49.8L471.7 49.3L471.9 48.3L471.7 47.5L472 47.1L472.2 46.5Z" fill="none" stroke="#1a1a1a" stroke-width="0.6"/>
<path d="M470.9 43.9L471 44.6L471.3 44.8L471.2 45.7L471.1 46.6L470.7 47.9L470.1 47.7L469.7 48.3L469.2 48.9L468.7 48.9L468.9 47.8L468.9 47L469.3 46L469.8 45.4L470.1 43.8L470.7 43.5Z" fill="none" stroke="#1a1a1a" stroke-width="0.6"/>
<path d="M471.1 35.9L471.8 35.7L472.1 36.3L472.4 37.1L472.4 38L471.4 38.3L471.3 39.2L470.8 39.9L470.1 40L469.7 39.3L469.3 38.8L469.4 38L469.5 37.3L469.2 36L470 35.8L470.6 35.8Z" fill="none" stroke="#1a1a1a" stroke-width="0.6"/>
<path d="M475.6 31.2L476.1 31.1L476.5 31.4L476.2 32.4L476.1 33.1L475.8 33.8L475.4 34.1L475 35.2L474.5 35L474.4 34.3L474.4 33.7L474 33.4L474.1 32.6L474.4 31.8L474.8 31.1L475.3 31.5Z" fill="none" stroke="#1a1a1a" stroke-width="0.6"/>
<path d="M474.4 35.3L474.9 35.3L475.1 35.9L474.7 37.1L474.3 38.2L473.5 38.7L473 39.8L472.2 41L471.8 40.6L471.7 39.9L471.8 39L471.9 38.2L472.4 37.2L472.7 35.7L473.5 35.3L473.9 35.6Z" fill="none" stroke="#1a1a1a" stroke-width="0.6"/>
<path d="M473.8 39.6L474.1 40L474.3 40.7L474.5 41.5L474.7 42.7L474.6 44.2L474 44.2L473.8 45.3L473.4 45.9L473.1 45.8L472.8 45.1L472.7 43.8L472.9 42.6L473 41.7L472.9 39.7L473.4 39.5Z" fill="none" stroke="#1a1a1a" stroke-width="0.6"/>
<path d="M475.6 40.4L475.4 41.5L475.8 41.7L476 42.4L475.6 43.4L474.8 43.8L474.3 44.3L473.7 44.8L473.3 44.5L472.5 44.8L472.8 43.7L473.2 42.9L473.6 42.2L473.8 41.1L474.5 40.6L475 40.6Z" fill="none" stroke="#1a1a1a" stroke-width="0.6"/>
<path d="M472.7 35.3L472.9 35.9L473.3 36.2L473 37L473.3 37.7L473 38.6L472.4 39L472 38.7L471.5 39.2L471 39.2L470.9 38.5L470.6 37.9L471.2 37L471.5 36.5L471.8 35.7L472.3 34.8Z" fill="none" stroke="#1a1a1a" stroke-width="0.6"/>
<path d="M474.9 34.8L475.5 35.4L475.9 36L475.9 37L475.9 37.9L475.6 38.6L475.7 40.2L474.9 40.5L474.3 39.8L473.8 39.8L473.4 39.2L472.9 38.6L472.9 37.5L473 36.4L473.9 36.4L474.3 35.8Z" fill="none" stroke="#1a1a1a" stroke-width="0.6"/>
<path d="M470.1 36L470.6 36.4L471.4 36.5L471.6 37.7L471.5 39L471 39.7L471.2 41.3L470.7 42.3L470.1 41.9L469.5 41.9L469.2 40.7L468.9 40L468.6 39L468.3 37.4L469.2 37.1L469.7 36.7Z" fill="none" stroke="#1a1a1a" stroke-width="0.6"/>
<path d="M475.6 30.3L476 30.2L476.6 30.2L477.3 30.8L477.6 32L478 33.1L477.2 33.5L477.2 34.3L477.1 35.5L476.4 35.4L475.7 34.4L475.3 33.5L474.8 32.8L474.9 31.8L474.2 30.3L474.8 29.8Z" fill="none" stroke="#1a1a1a" stroke-width="0.6"/>
<path d="M469.6 51.3L470.3 51.7L471 52.1L471.3 53L471.1 53.9L470.5 54.5L470.5 55.5L469.9 56.6L469.1 55.8L468.4 55.7L468.1 54.9L467.6 54.3L467.4 53.5L467.3 52.4L468.2 52L469 52.3Z" fill="none" stroke="#1a1a1a" stroke-width="0.6"/>
<path d="M474 42.1L475 40.7L475.6 41.8L475.6 43.2L475.6 44.3L475.5 45.4L475.2 46.5L474.6 47.4L473.7 48.3L473.2 46.3L472.6 46L471.9 45.4L471.7 44.2L471.9 42.9L472.6 42L473.3 41.6Z" fill="none" stroke="#1a1a1a" stroke-width="0.6"/>
<path d="M473 47.6L473.8 47.3L474.4 48.1L475.1 48.4L474.8 49.4L475 50L475.4 51.1L474.7 51.6L473.8 51.6L473.2 51.3L472.4 51.5L472.1 50.7L471.1 50.2L471.3 49.3L472.2 48.8L472.5 48.3Z" fill="none" stroke="#1a1a1a" stroke-width="0.6"/>
<path d="M468.6 37.7L469.6 38.2L470.4 38.9L471 40L471.4 41L471.6 42.1L472.1 43.6L471.8 44.8L470.5 43.7L470 44.2L469.3 44L468.4 43.4L467.9 42.1L467.6 40.8L468.2 40.1L468.7 39.7Z" fill="none" stroke="#1a1a1a" stroke-width="0.6"/>
<path d="M473.4 24L473.9 23.9L474.1 25.1L474.1 26.2L474.6 26.9L474.5 27.9L474.4 29L474 29.3L473.7 29.3L473.4 28.8L472.9 28.9L472.4 28.3L472.7 26.9L472.7 26L472.9 25.3L473.1 24.5Z" fill="none" stroke="#1a1a1a" stroke-width="0.6"/>
<path d="M470.8 34.2L471.3 33.4L471.7 35.2L472 36L472.3 36.8L472.4 37.8L472.5 39.1L472.1 39.8L471.6 39.7L471.2 38.6L470.6 39.3L470.2 38.4L470 37.2L469.9 36L470.3 35.5L470.5 34.8Z" fill="none" stroke="#1a1a1a" stroke-width="0.6"/>
<path d="M475.8 24.2L476.5 23.7L476.7 24.6L476.4 25.8L476.2 26.6L476.2 27.7L475.8 28.8L475.3 28.7L474.7 29.2L474.6 28.1L474.3 27.8L473.9 27.3L473.9 26.1L474.6 25.3L475 24.9L475.4 23.9Z" fill="none" stroke="#1a1a1a" stroke-width="0.6"/>
<path d="M472.8 25.4L473.9 24.8L474 25.7L473.5 26.8L473.2 27.5L472.7 28.2L472.2 29L471.4 29.3L470.6 29.6L470.8 28.1L470.5 27.7L470.1 27L470.4 26.1L471 25.3L471.8 24.9L472.4 24.8Z" fill="none" stroke="#1a1a1a" stroke-width="0.6"/>
<path d="M471.9 36.6L472.6 36.9L472.9 37.5L473.9 37.4L474.1 38.4L473.9 39.2L473.3 39.6L473.2 40.5L472.6 40.7L472 40.8L471.2 40.7L471.3 39.5L471 38.9L470.7 38.2L470.6 37.1L471.4 36.9Z" fill="none" stroke="#1a1a1a" stroke-width="0.6"/>
<path d="M474.3 43.7L474.6 44.2L474.6 44.8L474.5 45.3L474.9 45.8L474.6 46.5L474.1 46.6L473.7 47L473.4 46.6L473.1 46.6L472.7 46.4L472.4 45.9L473 45.3L473.2 44.8L473.4 44.2L473.8 44.2Z" fill="none" stroke="#1a1a1a" stroke-width="0.6"/>
<path d="M473.6 27.6L474.2 28.9L474.8 28.5L475.4 29.1L475.8 30L475.7 30.9L475.5 31.7L475 32L474.5 32.2L474 33.4L473.4 32.2L473 31.4L472.9 30.6L472.7 29.7L472.8 28.9L473 27.9Z" fill="none" stroke="#1a1a1a" stroke-width="0.6"/>
<path d="M473.9 33.2L474.7 33.2L475 33.9L475.4 34.6L475.2 35.2L474.2 35.1L474 35.6L473.3 35.8L472.5 35.7L472.2 34.9L471.7 34.4L471.9 33.9L471.9 33.4L471.7 32.4L472.6 32.5L473.4 32.8Z" fill="none" stroke="#1a1a1a" stroke-width="0.6"/>
<path d="M464.4 57.8 L466 54.5 L468 53.2 L471 53.6 L473 55 L474.5 57.8 Z" fill="#000"/>
<rect x="463.5" y="66.5" width="50.3" height="52" fill="none" stroke="#999" stroke-width="0.6"/>
<line x1="461.9" y1="118.5" x2="463.5" y2="118.5" stroke="#aaa" stroke-width="0.5"/>
<line x1="463.5" y1="118.5" x2="463.5" y2="120.1" stroke="#aaa" stroke-width="0.5"/>
<line x1="461.9" y1="105.5" x2="463.5" y2="105.5" stroke="#aaa" stroke-width="0.5"/>
<line x1="476.1" y1="118.5" x2="476.1" y2="120.1" stroke="#aaa" stroke-width="0.5"/>
<line x1="461.9" y1="92.5" x2="463.5" y2="92.5" stroke="#aaa" stroke-width="0.5"/>
<line x1="488.6" y1="118.5" x2="488.6" y2="120.1" stroke="#aaa" stroke-width="0.5"/>
<line x1="461.9" y1="79.5" x2="463.5" y2="79.5" stroke="#aaa" stroke-width="0.5"/>
<line x1="501.2" y1="118.5" x2="501.2" y2="120.1" stroke="#aaa" stroke-width="0.5"/>
<line x1="461.9" y1="66.5" x2="463.5" y2="66.5" stroke="#aaa" stroke-width="0.5"/>
<line x1="513.8" y1="118.5" x2="513.8" y2="120.1" stroke="#aaa" stroke-width="0.5"/>
<line x1="478.8" y1="66.5" x2="478.8" y2="118.5" stroke="#999" stroke-width="0.6"/>
<line x1="463.5" y1="101" x2="513.8" y2="101" stroke="#999" stroke-width="0.6"/>
<path d="M467.6 117L466.9 115.1L468 113.3L467.7 111.1L468 110.3L468.2 109.1L468.6 108.7L469.8 107.1L470.9 106.1L471 105.1L472.1 104.1L472.5 102.3L472.9 101.8L474.2 100.9L474.5 100.1L475.6 99L475.1 98.8L476.6 98.5L476.3 98.1L476.8 97.6L478.3 98.1L479 97.7L479.2 98.6L479.6 98.5L480.7 98.4L481.8 99.3L482.1 99.9L483.5 99.5L483.8 100.4L483.3 100.9L483.1 102L482.5 102.6L482.7 103.5L481.1 103.3L481.2 104.8L480.6 105.7L479.4 106.8L478.3 107.7L478.3 108.3L478.4 109.5L477.1 109.4L476.6 110.3L476.3 111L477 113.2L476.5 115.2L476.5 117L473.6 117.3L470.3 117.2Z" fill="none" stroke="#1a1a1a" stroke-width="0.55"/>
<path d="M467 117.6L467.2 114.9L466.9 112.8L467 110.8L467.5 109.4L467.9 107.5L468.9 106.8L470.1 104.5L470.6 103.6L470.8 102.1L472.4 100.9L472.4 99.3L473.5 98.3L474.5 96L475.4 95.9L475.3 94.9L475.5 94.6L476.4 93.2L477.1 93.3L477 93.1L477.8 93.4L478.8 94L479.7 93.3L480 94.3L480.9 94.9L482.5 95L483.1 95.2L484.2 95.8L483.6 96.9L484.7 98.1L484.4 98L483.7 98.6L483.1 99.5L481.9 100.9L481.9 102L480.4 103.7L479.9 104.6L479.2 105.9L478.6 106L478.1 107.1L477.5 107.9L477.7 108.9L477.5 110.4L477.4 112.8L476.5 115.3L476.4 117.2L474.1 117.3L470.9 117.3Z" fill="none" stroke="#1a1a1a" stroke-width="0.55"/>
<path d="M467.4 117.4L466.9 114.5L466.5 111.2L466.9 108.9L467.9 107.1L468.7 105.3L468.8 103.6L469.2 101.9L470.9 100.8L471.2 99.2L472.5 97.1L473.3 95.4L473.9 94.4L474.2 92.9L475.3 90.9L476.1 89.6L475.9 89.4L476.3 89.9L476.9 89.4L477.4 88.7L478.1 89L480.1 89L480.6 88.9L480.7 89.3L482.6 90.2L483.4 91L483.4 91L484.7 91.6L484.8 93L484.8 94.4L484.9 95.2L484 96.2L483.6 96.1L483 97.7L481.9 99L481.4 100.3L480.1 102.4L479.8 103.7L479.2 104.7L478.8 105.2L478.1 106.7L477.8 108L477.7 109.1L477.1 112.2L477.8 114.4L477.8 117.3L473.5 116.8L470.5 117.6Z" fill="none" stroke="#1a1a1a" stroke-width="0.55"/>
<path d="M465.9 118L466.2 114.7L467.1 110.6L466.7 107.5L467.1 106.1L468.2 103.7L468.5 102.3L469.4 99.6L470.1 97.9L471.6 96.2L472.2 93.8L473.4 91.9L473.6 90L474.6 89.2L475.5 87.6L476.3 85.9L476.2 85.8L477.5 85.2L477.9 85L478.7 84.8L479.5 84.7L479.6 84.9L480.7 85.1L482.3 85.3L482.4 85.7L484 86.9L485.1 87.7L485.7 88L485.3 89.6L485.4 90.6L486.4 90.8L485 92.5L484 93.2L483.1 93.8L482.4 96.3L481.2 98.4L481.1 99.5L480.6 100.5L479.4 102.4L479.6 103.9L478.1 105.5L477.8 105.9L477.9 107.1L477.6 110.5L477.6 113.9L477.5 117.2L473.9 117.6L470.1 117.4Z" fill="none" stroke="#1a1a1a" stroke-width="0.55"/>
<path d="M465.7 117.4L466.6 113.7L465.9 110.2L466.1 106.4L466.6 104.5L467 101.9L468.7 99.6L469 97.3L470 95.4L471.6 93.5L471.8 91.2L472.9 88.3L473.6 86.5L474.6 85.5L475.8 82.6L476.4 81.1L476.4 81.3L476.7 80.7L478.1 79.4L478.4 80.3L479 79.8L480.2 80.5L481.8 80.8L482.1 80.4L483.8 81L484 81.7L485.6 83.1L485.8 83.4L486.5 84.6L486.2 86.4L487.2 87.6L486.7 88.2L484.7 89.5L484.4 91.3L483 93.3L481.9 94.9L481.2 96.9L480.5 98.6L480.1 100.8L479.9 102.2L478.7 103.7L478.5 105.3L478.3 106.5L478.2 109.4L477.8 113.3L477.7 117.8L473.9 117L470.4 117.2Z" fill="none" stroke="#1a1a1a" stroke-width="0.55"/>
<path d="M465.4 117.6L466 113.1L465.5 109.5L466.1 104.6L466.7 102.9L467.6 100.7L468.5 98.2L469.6 95.3L469.7 93.2L470.7 89.6L471.6 87.7L473.5 85.2L474.5 83.5L474.5 81L475.8 79.2L476.7 76.5L477.2 76.1L477.5 76L477.5 75.7L479.1 75.2L480.3 75.1L481.5 75L482.4 76L482.6 76.2L484.6 77.2L485.1 78.2L485.6 79L487.5 79.8L487.3 81.9L488.2 82.4L488.5 83.4L487.1 85.7L486.3 86.8L484.7 88.6L484.1 90.8L483.5 92.9L482 95.2L480.9 96.5L481.2 97.9L479.4 100.5L479.5 101.4L479.5 103.7L478.4 105L478.2 109.1L478.6 113.5L478.1 118L473.6 118.1L470.3 117.1Z" fill="none" stroke="#1a1a1a" stroke-width="0.55"/>
<path d="M478.7 90.1L479 90.4L479.1 91.1L478.9 91.9L479 92.7L478.7 93.7L478.1 94.4L477.7 93.7L477.1 94.3L476.8 94L476.5 93.5L476.3 92.8L476.8 91.9L477.3 91.3L477.7 90.8L478.3 89.5Z" fill="none" stroke="#1a1a1a" stroke-width="0.6"/>
<path d="M478.1 84.3L478.2 85L479.3 85.5L479 86.3L478.5 86.9L477.7 87.1L477 87.2L476.4 86.9L475.5 87L474.7 86.4L475.5 85.4L475.4 84.8L475.7 84.2L476.1 83.5L476.9 83.4L477.8 83.4Z" fill="none" stroke="#1a1a1a" stroke-width="0.6"/>
<path d="M474.7 95L475.5 95.2L474.8 96.9L475.4 97.5L475.5 98.8L474.7 99.9L473.7 100.2L473 100.4L472.2 100.7L471.9 100L470.7 99.9L471.3 98.3L472.2 97.3L472.5 96.3L473.1 95.1L474 94.6Z" fill="none" stroke="#1a1a1a" stroke-width="0.6"/>
<path d="M477.1 92.6L477.7 93L478.2 93.6L478.5 94.4L477.3 94.6L477 95.1L476.5 95.6L475.7 95.5L474.9 95.4L474.6 94.6L474.7 93.9L475 93.4L474.5 92.4L475.2 92L476 92.1L476.7 92.1Z" fill="none" stroke="#1a1a1a" stroke-width="0.6"/>
<path d="M482.4 81.5L482.9 81.7L483.4 82L483.6 83L483.8 84.1L483.1 84.9L482.6 85.4L482.4 86.9L481.7 87L481.2 86.6L481 85.6L480.7 84.8L481.1 83.8L480.7 82.5L481.1 81.3L481.9 81.7Z" fill="none" stroke="#1a1a1a" stroke-width="0.6"/>
<path d="M482 77.5L482.7 77.3L483.1 78.7L483.4 79.5L484.4 80.4L484.1 81.8L483.5 82.6L482.8 82.7L482.3 83.7L481.7 83.1L480.8 83.2L480.2 82.1L480.8 80.6L480.7 79.6L480.7 78.4L481.1 77.1Z" fill="none" stroke="#1a1a1a" stroke-width="0.6"/>
<path d="M478.1 91.8L478.5 92.7L478.8 93.5L479.8 93.6L479.5 95.1L479.2 96.3L478.8 97.2L478.2 97.4L477.7 98L476.9 98.3L476.3 97.7L476.8 95.8L476.4 94.9L476.5 93.7L476.9 92.7L477.4 91.6Z" fill="none" stroke="#1a1a1a" stroke-width="0.6"/>
<path d="M475.3 98.4L475.6 99L475.9 99.2L475.8 99.9L476 100.4L475.9 101.1L475.6 101.7L475 101.3L474.7 101.5L474.2 101.6L474 101.1L473.6 100.6L473.9 100L474.2 99.5L474.5 99.2L474.8 98.3Z" fill="none" stroke="#1a1a1a" stroke-width="0.6"/>
<path d="M474.1 94.5L474.5 95.3L474.7 96.1L474.7 97.3L474.6 98.3L474.4 99.4L474.2 101.2L473.4 100.8L473 100.5L472.5 100.6L472.1 100L471.8 99.1L472 97.8L472.4 96.6L473.1 96.6L473.4 95Z" fill="none" stroke="#1a1a1a" stroke-width="0.6"/>
<path d="M471.7 95.6L472.4 95.9L473.4 96.4L473.1 97.1L472.5 97.6L472 97.8L471.7 98.6L470.9 98.3L470.1 98.4L469.5 97.7L469.8 96.9L469.4 96.3L469.2 95.6L469.6 94.9L470.6 95.2L471.2 95Z" fill="none" stroke="#1a1a1a" stroke-width="0.6"/>
<path d="M480.4 82.1L480.5 83.3L481.1 83.7L481.1 84.4L481.2 85.2L480.8 85.9L480.2 86.5L479.3 86L478.8 85.6L477.7 86L477.5 85.1L477.3 84.3L477.7 83.6L478.2 83.1L478.9 82.9L479.5 82.2Z" fill="none" stroke="#1a1a1a" stroke-width="0.6"/>
<path d="M474.8 89.9L475.6 90.2L475.7 91.4L475.2 92.5L474.9 93.4L475 95.1L473.9 95.3L473 95.6L472.3 95.3L472 94.6L471.4 94L470.9 93.1L471.3 91.7L472.7 91.5L473.1 90.4L473.9 90Z" fill="none" stroke="#1a1a1a" stroke-width="0.6"/>
<path d="M475.1 89.9L475.9 89.9L475.7 90.9L475.8 91.4L476.2 92L475.9 92.7L475.3 93L474.6 92.9L474.1 93L473.8 92.4L472.8 92.4L472.7 91.6L473.3 91L473.6 90.6L473.9 90.1L474.5 89.7Z" fill="none" stroke="#1a1a1a" stroke-width="0.6"/>
<path d="M475.1 92.8L475.8 93L476 93.7L475.7 94.8L475 95.9L474.1 96.6L473.4 96.6L472.2 98.3L471.6 97.9L471.5 96.9L471.6 96L471.9 95.1L472.4 94.1L473.1 93L474.1 91.7L474.5 92.9Z" fill="none" stroke="#1a1a1a" stroke-width="0.6"/>
<path d="M478.8 92.9L479.2 93.2L479.1 94.1L479.2 94.8L479 95.6L478.7 96.9L477.9 96.9L477.4 96.7L476.7 97.2L476.3 96.8L475.9 96.3L476.1 95.3L476.5 94.4L477.3 94.2L477.6 93L478.4 92.2Z" fill="none" stroke="#1a1a1a" stroke-width="0.6"/>
<path d="M478.7 80.5L479.2 80.3L479.7 80.7L480.1 81.4L479.5 82.3L479.6 83L479.5 84L479 84.3L478.5 84.7L478 84.1L477.8 83.5L477.7 82.8L477 82.2L477.4 81.3L477.9 80.9L478.3 80.4Z" fill="none" stroke="#1a1a1a" stroke-width="0.6"/>
<path d="M473.4 93.8L473.8 94.6L473.7 95.4L474.1 96L473.5 96.5L473.5 97.5L472.8 98L472 97.3L471.5 97.1L470.8 96.8L470.1 96.3L470.4 95.5L470.3 94.6L471.3 94.5L471.9 94.4L472.5 93.6Z" fill="none" stroke="#1a1a1a" stroke-width="0.6"/>
<path d="M480.9 85.7L481.9 85.8L481.7 86.8L481.6 87.3L481.4 87.8L481.4 88.5L480.7 88.6L480 89L479.4 88.4L479.3 87.7L478.4 87.4L478.1 86.7L478.3 86.1L479.1 85.9L479.5 85.5L480.2 85.8Z" fill="none" stroke="#1a1a1a" stroke-width="0.6"/>
<path d="M474.4 97.1L475 97.7L474.7 98.7L474.9 99.6L473.8 100.1L473.5 100.9L472.8 101.9L471.8 101.8L471.4 100.9L471.2 100.3L470.5 99.8L471 98.9L470.8 97.8L471.8 97.3L472.7 97.5L473.4 97.4Z" fill="none" stroke="#1a1a1a" stroke-width="0.6"/>
<path d="M479.1 88.1L479.7 88.3L479.7 89.1L480.6 89.4L480.5 90.4L479.7 90.9L479.2 91.3L478.7 91.7L478 92L477.5 91.6L476.7 91.2L477.4 90.1L477.4 89.5L477.3 88.6L477.8 88L478.5 87.7Z" fill="none" stroke="#1a1a1a" stroke-width="0.6"/>
<path d="M477.1 88.1L477.6 88.5L478.6 89L478.2 90L477.1 90.4L477 91.3L476.2 91.5L475.4 91.9L474.6 91.6L474.2 90.9L474.6 89.9L474.3 89.3L474 88.2L475 87.9L475.8 87.4L476.5 87.8Z" fill="none" stroke="#1a1a1a" stroke-width="0.6"/>
<path d="M478.6 86.9L478.6 87.7L478.7 88.4L478.1 89.2L477.5 89.8L476.9 90.3L476.1 91.2L475.2 91.5L475.4 90.3L474.8 90.2L475 89.5L475 88.8L475.5 88L476.3 87.3L477 87.5L477.5 87.6Z" fill="none" stroke="#1a1a1a" stroke-width="0.6"/>
<path d="M488.5 81.8L488.6 82.2L488.7 82.6L488.9 83L488.8 83.4L488.4 83.7L488.1 84L487.7 83.6L487.3 83.6L486.9 83.5L486.7 83L486.9 82.6L487.1 82.3L487.3 81.9L487.7 81.9L488.2 81.5Z" fill="none" stroke="#222" stroke-width="0.55"/>
<path d="M485 81.3L485.1 81.7L485.2 82.2L485 82.6L484.9 83.2L484.3 82.9L484 82.6L483.5 82.7L483.2 82.3L482.9 81.8L483.1 81.4L483.2 81L483.7 81L483.9 80.5L484.4 80.4L484.8 80.9Z" fill="none" stroke="#222" stroke-width="0.55"/>
<path d="M488.5 79L488.8 79.1L488.7 79.5L488.7 79.9L488.5 80.3L488.1 80.7L487.8 80.6L487.5 80.6L487 80.8L487 80.4L486.8 80.1L487.1 79.7L487.4 79.4L487.7 79.1L488 78.7L488.4 78.6Z" fill="none" stroke="#222" stroke-width="0.55"/>
<path d="M485 86.9L484.6 86.9L484.1 87.2L483.7 86.8L483.7 86.2L483.5 85.9L483.4 85.4L483.6 84.9L484 84.8L484.4 84.6L484.8 85L485.2 85.1L485.7 85.3L485.7 85.8L485.5 86.3L485.2 86.5Z" fill="none" stroke="#222" stroke-width="0.55"/>
<path d="M466.2 118.4 L466.5 110 C466.8 105.5 468.5 103 471.5 102.7 C474.5 103 476.6 105.5 476.9 110 L477.3 118.4 Z" fill="#111"/>
<path d="M468 117.5 L468.2 110.5 C468.5 107 469.8 105 471.6 104.8 C473.5 105 474.8 107 475 110.5 L475.3 117.5" fill="none" stroke="#666" stroke-width="0.45"/>
<path d="M469.6 116.5 L469.8 111 C470 108.8 470.7 107.5 471.7 107.4 C472.8 107.5 473.4 108.8 473.6 111 L473.8 116.5" fill="none" stroke="#555" stroke-width="0.4"/>
<ellipse cx="471.6" cy="109.6" rx="0.8" ry="2" fill="#fff"/>
<rect x="337.5" y="166.6" width="49.2" height="50" fill="none" stroke="#999" stroke-width="0.6"/>
<line x1="335.9" y1="216.6" x2="337.5" y2="216.6" stroke="#aaa" stroke-width="0.5"/>
<line x1="337.5" y1="216.6" x2="337.5" y2="218.2" stroke="#aaa" stroke-width="0.5"/>
<line x1="335.9" y1="204.1" x2="337.5" y2="204.1" stroke="#aaa" stroke-width="0.5"/>
<line x1="349.8" y1="216.6" x2="349.8" y2="218.2" stroke="#aaa" stroke-width="0.5"/>
<line x1="335.9" y1="191.6" x2="337.5" y2="191.6" stroke="#aaa" stroke-width="0.5"/>
<line x1="362.1" y1="216.6" x2="362.1" y2="218.2" stroke="#aaa" stroke-width="0.5"/>
<line x1="335.9" y1="179.1" x2="337.5" y2="179.1" stroke="#aaa" stroke-width="0.5"/>
<line x1="374.4" y1="216.6" x2="374.4" y2="218.2" stroke="#aaa" stroke-width="0.5"/>
<line x1="335.9" y1="166.6" x2="337.5" y2="166.6" stroke="#aaa" stroke-width="0.5"/>
<line x1="386.7" y1="216.6" x2="386.7" y2="218.2" stroke="#aaa" stroke-width="0.5"/>
<path d="M362 183L362.3 183L362.9 182.1L363.9 182.4L364.6 182L364.5 181.5L365.4 181.7L365.8 181.5L366.8 180.7L368.1 180.9L368.6 180.5L369.3 180.3L369.3 179.7L370.1 180L371.4 179.5L372.3 180.3L373 180.2L374.9 179.4L375.7 179.4L376 179.5L376.1 180.2L376.7 180.8L377.1 180.5L377.1 181.2L376.7 182.1L376.7 183.1L377.2 184.1L376.5 185L375.5 185.5L375.9 186.5L374.8 186.7L373.9 187L373.9 187.1L373 187.7L371.8 188.3L370.5 188.4L369.7 189.2L370.2 188.5L369.4 188.4L368.1 187.3L367.7 187.2L367.2 187.1L366.9 186.5L365.4 185.7L365.5 185.9L364.2 185.3L364.1 184.5L364 184.2L362.6 184.2L362.8 183.3L362.5 183Z" fill="none" stroke="#252525" stroke-width="0.65"/>
<path d="M359.6 183.1L360.5 182.4L360.4 182.5L361.1 181.8L361.9 181.4L362.6 181.5L364.4 181.3L365 180.6L365.7 180.1L367 180L367.3 180.5L368.1 180.2L369.2 179.7L370.3 178.9L371.6 178.9L372.3 178.7L373 178.9L374.1 179L376.3 179.7L376.4 178.9L377 179.1L377.5 180.1L378.1 180.1L378 181.4L378 181.8L377.7 182.7L377.8 184.3L377.4 184.9L377.1 185.7L375.6 186.6L375.8 187.2L374.6 188.7L373.8 188.7L372.4 189.7L371.7 190L370.2 190L369.9 189.8L368.5 190.2L368.2 189.3L367.3 188.7L366.3 188L365.7 187.5L365.5 187.9L364.4 186.3L363.7 185.8L362.6 185.2L362 184.7L361 184.5L360.5 185L360.3 184.3L360.2 183.5Z" fill="none" stroke="#2c2c2c" stroke-width="0.65"/>
<path d="M357.6 182.7L358.2 182.4L358.2 182.7L358.7 181.8L359.5 182L361.7 180.8L361.7 180.8L363.3 180.8L364.3 180.2L365.2 179.5L366 179.5L367.5 179.3L368.8 178.6L369.4 178.6L371.5 178.3L372.1 178.4L373.9 178.2L374.6 178.7L376.5 178.5L376.6 178.5L377.5 179L379.2 180L379.3 180.2L379 181.7L378.9 182L379 183.1L378.4 184.2L378.5 185.6L376.8 186L376.7 187.1L375.9 188.2L374.6 189.1L373.6 189.5L372.2 190.8L370.9 191.5L370.7 191.8L369.5 192.1L368.1 191.6L367 190.2L366.8 190.8L365.1 189.4L364.1 189.2L363.2 188.6L362.1 187.4L362.1 186.9L360.4 185.6L360.2 185.3L358.8 185.4L357.9 184.3L358.1 184.5L357.6 183.2Z" fill="none" stroke="#323232" stroke-width="0.65"/>
<path d="M354.4 183L355.7 182.7L355.4 182.5L356 181.4L357.3 181.5L359.6 181.1L360.1 181L362.2 179.9L362.8 180L365 179.9L365.9 179.2L366.1 178.7L367.4 178.4L369.1 177.7L371.1 177.4L372 177.6L374.3 177.3L375.4 178.3L377.1 178.3L377.7 178.1L378.6 178.4L379.5 178.5L380.4 180.3L380.1 181.1L379.7 181.8L380.2 183.8L379.2 185L379.4 185.5L377.8 187.1L376.9 188.4L375.9 189.1L375.3 190.2L373.9 190.7L372 191.9L370.4 192.2L369.2 192.6L368.1 193.4L367.3 192.3L366.3 192L364.8 191.8L364.2 190.1L363.1 189.8L361.5 189.7L361.1 189L359.9 187.5L358.5 187L357.8 185.9L357.2 185.9L355.3 185.8L355.3 185.1L354.8 183.3Z" fill="none" stroke="#393939" stroke-width="0.65"/>
<path d="M351.9 183.5L352.6 183.2L352.9 182.8L354.5 182L356.1 180.8L357.6 180.9L358.3 180.7L360.1 180.1L361.2 179.6L362.6 178.4L363.9 177.9L365.7 177.7L366.4 178L368.9 177.3L370 177.6L372.2 177L373.7 177L375.7 176.8L376.9 177.1L378.2 177.1L379.3 178.2L381 177.9L381.1 179.4L381.3 181.3L380.8 182.2L380.7 183.2L380.7 185.2L380.2 186.1L378.4 188.4L377.4 189L376.3 190.9L374.8 191L373.1 192.8L371.6 192.8L370.4 193.7L369.5 194.7L367.6 194.7L366.2 194L364.7 193.6L364.1 193L363.3 192.3L362.3 191.2L360 189.9L359.5 188.7L358 188.2L356.5 187.3L356 187.3L354.8 186.4L353 186.2L353.2 185.1L352.4 184.2Z" fill="none" stroke="#3f3f3f" stroke-width="0.65"/>
<path d="M349.3 183.1L350.7 182.7L351.2 182.2L351.8 181.7L354.1 180.5L355.4 180.2L357.2 180.1L358.1 179L360.4 179.4L362.4 178.9L362.9 177.8L364.8 177.3L365.7 177.5L368.2 176.7L370 176.9L372.3 176.8L373.8 177.1L376.3 176.2L377.6 176.4L378.9 177.5L379.7 177.9L381.1 178.4L381.6 178.9L382.4 180.6L382.6 181.8L381.2 183.7L380.6 185.4L380.7 187.2L378.7 188.7L377.9 189.9L377.4 191.9L374.9 192L374 193.4L372.2 194.7L370.9 195.4L369.3 196L367.1 195.9L365.3 195.7L364.3 194.6L362.8 193.8L361.7 193.2L360.1 191.6L359.1 191.5L357.7 190.6L356 189.4L355 187.4L353.3 187.6L352.7 186.2L351.2 186.5L350.2 185.5L349.5 183.8Z" fill="none" stroke="#464646" stroke-width="0.65"/>
<path d="M380.4 181.6L380.3 182.7L379.9 183.8L379.2 184.9L378.2 185.9L377 186.9L375.4 187.5L373.7 187.8L372 187.9L370.3 187.9L368.8 187.4L367.8 186.5L366.9 185.6L366 184.7L365.3 183.7L365.3 182.5L365.7 181.3L366.5 180.2L367.7 179.2L369.2 178.5L370.7 177.9L372.3 177.5L374 177.4L375.5 177.7L377 178L378.6 178.4L379.9 179.2L380.4 180.4Z" fill="#000"/>
<path d="M374.1 183.1L374.1 183.4L374 183.7L373.7 184L373.3 184.3L372.9 184.5L372.4 184.7L371.9 184.8L371.4 184.8L370.9 184.8L370.4 184.7L369.9 184.5L369.6 184.3L369.3 184.1L369.3 183.7L369.4 183.4L369.5 183.1L369.7 182.8L370.1 182.5L370.5 182.3L371 182.1L371.5 182L372.1 181.9L372.6 182L373 182.1L373.4 182.3L373.7 182.5L373.9 182.8Z" fill="#fff"/>
<path d="M355.8 195.6L356.1 196L356.5 196.3L357 196.8L356.6 197.6L356.2 198L355.8 198.4L355.4 199.2L354.9 198.9L354.3 198.8L354.1 198.2L354.3 197.5L354.1 196.9L354.2 196.1L354.7 195.6L355.3 195.9Z" fill="none" stroke="#222" stroke-width="0.55"/>
<path d="M358.4 195.2L358.3 195.4L358.1 195.9L357.7 195.7L357.3 195.6L357 195.4L356.9 195.1L356.5 194.8L356.5 194.4L356.8 194.1L357.3 194.2L357.6 194L358 194L358.3 194.2L358.7 194.5L358.5 194.9Z" fill="none" stroke="#222" stroke-width="0.55"/>
<path d="M358.8 201.8L358.1 202L357.6 201.7L357.1 201.6L356.9 201.3L356.9 200.9L356.6 200.5L357.3 200.1L358 199.9L358.5 199.8L359.2 199.4L359.6 199.7L359.9 200L360 200.5L359.3 200.9L359.2 201.3Z" fill="none" stroke="#222" stroke-width="0.55"/>
<path d="M354.9 198.7L354.3 198.1L353.6 198.3L353 198L352.6 197.5L352.5 196.9L353 196.3L353.6 196.1L354.1 195.8L354.8 195.1L355.4 195.6L355.8 196.1L356.1 196.6L356 197.1L355.9 197.7L355.6 198.3Z" fill="none" stroke="#222" stroke-width="0.55"/>
<path d="M359.6 201.6L359.4 202.1L359.5 202.7L359.4 203.4L358.9 203.3L358.5 203.1L358.2 202.9L357.7 202.7L357.6 202.1L357.3 201.5L357.6 201L358.1 201L358.3 200.5L358.7 200.4L359.1 200.6L359.3 201.2Z" fill="none" stroke="#222" stroke-width="0.55"/>
<path d="M356.9 198.5L357.6 198.5L358.3 198.7L358.4 199.2L358.5 199.6L358.2 199.9L357.6 200L357.4 200.6L356.7 200.5L356.1 200.2L355.7 199.8L355.2 199.6L355.1 199.2L355.2 198.8L355.4 198.3L356.4 198.6Z" fill="none" stroke="#222" stroke-width="0.55"/>
<rect x="400.6" y="166.5" width="50.8" height="51.5" fill="none" stroke="#999" stroke-width="0.6"/>
<line x1="399" y1="218" x2="400.6" y2="218" stroke="#aaa" stroke-width="0.5"/>
<line x1="400.6" y1="218" x2="400.6" y2="219.6" stroke="#aaa" stroke-width="0.5"/>
<line x1="399" y1="205.1" x2="400.6" y2="205.1" stroke="#aaa" stroke-width="0.5"/>
<line x1="413.3" y1="218" x2="413.3" y2="219.6" stroke="#aaa" stroke-width="0.5"/>
<line x1="399" y1="192.2" x2="400.6" y2="192.2" stroke="#aaa" stroke-width="0.5"/>
<line x1="426" y1="218" x2="426" y2="219.6" stroke="#aaa" stroke-width="0.5"/>
<line x1="399" y1="179.4" x2="400.6" y2="179.4" stroke="#aaa" stroke-width="0.5"/>
<line x1="438.7" y1="218" x2="438.7" y2="219.6" stroke="#aaa" stroke-width="0.5"/>
<line x1="399" y1="166.5" x2="400.6" y2="166.5" stroke="#aaa" stroke-width="0.5"/>
<line x1="451.4" y1="218" x2="451.4" y2="219.6" stroke="#aaa" stroke-width="0.5"/>
<rect x="403.2" y="169.2" width="20.5" height="22.3" fill="none" stroke="#999" stroke-width="0.6"/>
<rect x="403.2" y="191.5" width="20.5" height="24.7" fill="none" stroke="#999" stroke-width="0.6"/>
<path d="M412.5 188.4L413.3 188.6L413.9 189L414.6 189.6L414.6 190.1L414 190.4L413.1 190.3L412.8 190.9L411.8 190.8L411 190.3L410.3 189.9L410.3 189.3L410.2 188.9L410.2 188.4L410.5 187.8L411.7 188.3Z" fill="none" stroke="#2a2a2a" stroke-width="0.55"/>
<path d="M414 189.8L414 190.7L413.6 191.3L413.3 191.9L412.7 191.7L412.2 192L411.5 192.1L411.3 191L411.2 190.1L411.3 189.4L411.2 188.5L411.7 188.1L412.1 187.4L412.7 187.9L413 188.8L413.6 189Z" fill="none" stroke="#2a2a2a" stroke-width="0.55"/>
<path d="M415.7 181.1L416.2 181.8L417.5 182L417.8 182.6L417.9 183.2L417.6 183.6L416.6 183.7L415.8 183.6L415 183.7L413.7 183.6L413.6 182.8L413.1 182.3L413.1 181.8L413.4 181.4L413.8 180.9L414.7 180.7Z" fill="none" stroke="#2a2a2a" stroke-width="0.55"/>
<path d="M412.8 176.9L412.1 176.8L411.3 176.9L411.1 176.2L410.9 175.7L410.5 175.2L410.4 174.5L411.2 174.2L411.9 174.1L412.5 173.8L413 174.1L413.9 174.1L414.2 174.7L413.9 175.4L413.4 175.8L413.3 176.4Z" fill="none" stroke="#2a2a2a" stroke-width="0.55"/>
<path d="M414.6 175.2L415.4 175.8L416.2 176.2L417.4 176.7L417 177.2L417.1 177.9L416 178.1L414.9 177.9L414 178.1L412.8 178L411.9 177.4L412.1 176.7L411.5 176.1L412.3 175.8L412.5 175.2L413.4 174.8Z" fill="none" stroke="#2a2a2a" stroke-width="0.55"/>
<path d="M419.4 181.8L418.9 182.2L418.2 182.3L417.5 182.4L416.6 182.2L415.9 181.6L416.3 180.7L415.8 180.1L415.8 179.4L416.3 178.9L417 178.6L417.8 179L418.5 179.5L418.9 180L420.1 180.6L419.8 181.3Z" fill="none" stroke="#2a2a2a" stroke-width="0.55"/>
<path d="M417.1 182.4L417.9 182.7L418.4 183.6L418 184.7L417.8 185.6L417 186.2L416.4 186.9L415.5 188L414.8 187.1L414.4 186.4L414.1 185.7L413.7 184.8L414.1 183.9L414.5 182.8L415.4 182.3L416.2 183Z" fill="none" stroke="#2a2a2a" stroke-width="0.55"/>
<path d="M410.3 191.5L409.7 190.9L409.3 190.3L408.8 190.1L408.4 189.5L408.4 188.6L408.8 188.1L409.1 187.5L409.7 187.8L410.1 187.3L410.8 187.4L411 188.2L411 189L411.1 189.6L411.2 190.4L410.7 190.8Z" fill="none" stroke="#2a2a2a" stroke-width="0.55"/>
<path d="M419.3 184.9L419.5 185.4L419 186.1L418.5 186.7L417.8 187.4L416.8 188L415.9 187.8L415.8 187L414.7 187.1L414.7 186.5L414.8 185.8L415.5 185L416.5 184.6L417.3 184.6L418.2 184.3L419.6 183.9Z" fill="none" stroke="#2a2a2a" stroke-width="0.55"/>
<path d="M423.3 178.4L423.1 178.8L422.2 178.7L421.4 178.5L420.8 177.8L420 177.4L418.9 176.7L419.2 176.2L419.4 175.7L419.9 175.6L420.4 175.4L421.2 175.7L422.1 175.8L422.7 176.6L422.6 177.2L423.3 177.9Z" fill="none" stroke="#2a2a2a" stroke-width="0.55"/>
<path d="M419.9 187.7L420.6 187.9L421.2 188.5L421.2 189.5L420.2 190.2L419.7 191L418.9 191.3L418.1 191.3L417 191.8L416.7 190.8L416.9 189.8L417.3 189.1L417.1 188L417.9 187.4L418.8 186.8L419.7 186.7Z" fill="none" stroke="#2a2a2a" stroke-width="0.55"/>
<path d="M411.7 184.8L411.2 185.2L410.7 184.5L410.5 183.7L410 183.3L410 182.6L409.8 181.7L410 181.2L410.6 181.2L411 181.5L411.4 181.4L412.1 181.7L412.1 182.6L412.4 183.3L412.1 183.9L411.9 184.3Z" fill="none" stroke="#2a2a2a" stroke-width="0.55"/>
<path d="M416.2 184.3L416.8 184L417.3 184.4L417.3 185.1L417.2 185.6L417.4 186.1L417.3 186.7L416.6 186.8L416 187.1L415.6 186.6L415.2 186.3L414.6 186.1L414.4 185.5L414.8 184.9L415.3 184.7L415.6 184.2Z" fill="none" stroke="#2a2a2a" stroke-width="0.55"/>
<path d="M413.8 200.2L415 200.1L415.7 200.6L416.6 201L416.1 201.5L415.7 201.9L416 202.6L414.9 202.8L413.7 202.8L412.8 202.5L411.8 202.3L411.5 201.9L410.7 201.4L410.7 200.8L412.2 200.7L412.9 200.4Z" fill="none" stroke="#2a2a2a" stroke-width="0.55"/>
<path d="M415.5 212.4L414.9 212.9L414.5 213.4L414 214L413.4 214.3L413.2 213.6L412.8 213.2L413.3 212.3L413.3 211.6L413.5 210.7L414 210L414.6 210.1L414.9 210.3L415.4 210.2L415.4 211L415.8 211.5Z" fill="none" stroke="#2a2a2a" stroke-width="0.55"/>
<path d="M409.8 203.1L409.3 203.7L408.6 204.3L407.7 203.2L407 202.8L406.2 202.3L405.7 201.5L405.7 200.6L406.1 199.9L406.9 199.7L407.8 200.1L408.6 199.3L409.5 199.9L409.9 200.8L410 201.7L410.1 202.4Z" fill="none" stroke="#2a2a2a" stroke-width="0.55"/>
<path d="M409.9 200L409.1 200.1L408.2 200.2L408.2 199.5L408 199.1L407.5 198.7L407.9 198.2L408.5 197.8L409.3 197.6L410.1 197.5L410.5 197.9L411.6 197.7L411.9 198.2L411.4 198.8L411.1 199.2L410.5 199.6Z" fill="none" stroke="#2a2a2a" stroke-width="0.55"/>
<path d="M416 208L416.8 208.3L417.8 208.8L417.9 209.6L418.2 210.4L417.3 210.7L416.4 210.8L415.9 211.6L414.8 211.4L414 210.8L413.7 210L413.1 209.4L413.4 208.8L413.3 208L413.8 207.3L415.1 207.9Z" fill="none" stroke="#2a2a2a" stroke-width="0.55"/>
<path d="M412 205.3L412.5 205.9L413.3 206.1L413.7 207L413.3 208L412.5 208.5L412.2 209.6L411.5 209.7L410.7 210L409.9 209.9L409.8 208.7L409.9 207.8L409.8 207L409.7 205.8L410.7 205.5L411.4 204.9Z" fill="none" stroke="#2a2a2a" stroke-width="0.55"/>
<path d="M411.9 197L413.3 197.4L413.2 198.4L413.3 199.1L413.1 199.6L412.5 199.9L412 200.3L411.1 200.2L410.1 199.6L410 198.6L408.9 198L408.7 197.2L408.8 196.6L409.3 196.1L410.3 196.4L411.1 196.7Z" fill="none" stroke="#2a2a2a" stroke-width="0.55"/>
<path d="M420.5 211.6L420.4 212.2L420.3 212.8L420 213.5L419.5 213.5L419.1 213L418.9 212.5L418.3 212.4L418.3 211.6L418.4 210.9L418.6 210.4L419.1 210.2L419.4 210L419.9 209.8L420.4 210L420.3 211Z" fill="none" stroke="#2a2a2a" stroke-width="0.55"/>
<path d="M410.1 203.2L409.9 203.6L409.6 204L408.5 204L407.4 203.8L406.4 203.3L406.3 202.7L405.1 202.1L404.8 201.5L405.2 201.1L406.3 201.2L407.2 201.2L408.1 201.5L409.1 201.8L410.7 202.2L410.3 202.8Z" fill="none" stroke="#2a2a2a" stroke-width="0.55"/>
<path d="M409.2 202.4L409.8 202.8L410 203.9L410.5 204.5L410.3 205.6L410.5 206.8L410.3 208.1L409.6 207.9L409.1 208L408.6 208L408 207.8L407.8 206.6L407.5 205.5L408 204.6L408.4 204.1L408.6 202.7Z" fill="none" stroke="#2a2a2a" stroke-width="0.55"/>
<path d="M409.5 204.8L409.4 205.1L409.4 205.6L409.1 206.1L408.6 206L408.3 205.8L407.9 205.6L407.9 205.2L407.5 204.8L407.5 204.3L407.9 204L408.3 203.9L408.6 203.7L409.1 203.6L409.3 204L409.8 204.2Z" fill="none" stroke="#2a2a2a" stroke-width="0.55"/>
<path d="M420.4 200.8L421.3 201L421.4 201.8L422.2 202.4L422.5 203.2L422 203.8L420.9 203.8L420.2 204L419.4 204.2L418.7 203.7L417.6 203.3L417.7 202.5L418.1 201.9L418.4 201.3L418.6 200.4L419.5 200.3Z" fill="none" stroke="#2a2a2a" stroke-width="0.55"/>
<path d="M415.7 195.3L416.6 195.9L417.6 196.3L418 197.1L418.9 198.1L418 198.8L416.7 198.9L416.1 199.6L414.9 199.7L413.7 199.5L413 198.7L412.4 197.9L413.2 197.1L413 196.2L413.1 195.1L414.6 195.2Z" fill="none" stroke="#2a2a2a" stroke-width="0.55"/>
<path d="M415 207.5L414.4 207.5L413.9 207.1L413.7 206.6L413.8 206.1L413.5 205.6L413.6 205L414.4 205L415 204.9L415.5 205.1L416 205.2L416.5 205.6L416.9 206.1L416.4 206.6L415.8 206.8L415.6 207.4Z" fill="none" stroke="#2a2a2a" stroke-width="0.55"/>
<path d="M422.4 194.9L424 195.3L423.8 196.6L423.1 197.4L422.9 198.2L422.4 199L421.4 199.3L420.3 198.9L419.2 198.4L419.3 197.1L418.5 196.3L417.9 195.1L418.6 194.3L419.7 194L420.7 194.1L421.6 194.1Z" fill="none" stroke="#2a2a2a" stroke-width="0.55"/>
<path d="M417.5 195.4L417.2 196.4L416.5 196.9L415.8 196.4L415.1 197.2L414.4 197L413.9 196.2L414 195.3L414.2 194.4L414.6 193.7L415.1 193L415.7 191.9L416.4 192.7L416.9 193.2L417.2 193.7L417.6 194.4Z" fill="none" stroke="#2a2a2a" stroke-width="0.55"/>
<path d="M419.3 196.1L419.2 197.2L418.6 197.8L417.9 198.8L417.2 198.6L416.7 197.9L416.8 196.9L416 196.4L416 195.2L416.8 194.4L417.3 193.4L418 193.5L418.6 193.3L419.3 193.4L420.1 193.8L419.6 195.2Z" fill="none" stroke="#2a2a2a" stroke-width="0.55"/>
<path d="M413.7 199.6L414.6 199.3L415.5 199.7L416 200.8L415.2 202.1L415.4 203.2L415 204.3L414.3 204.9L413.4 205.5L412.6 204.7L412.2 203.7L411.9 202.9L410.9 201.9L411.6 200.7L412.2 199.9L412.9 199.3Z" fill="none" stroke="#2a2a2a" stroke-width="0.55"/>
<path d="M418.8 182.3L420 182.3L420.4 181.4L421.1 180.9L422.7 181L423.9 180.6L424.2 179.5L426.2 179.5L426.5 179.3L428.4 178.7L428.9 178.4L430.7 178.3L431.1 177.9L432 177.8L433.1 178.3L434.5 178.1L435.5 178.2L436.4 178.2L436.9 178.4L437.5 178.9L437.4 179.8L438.3 179.6L437.9 180.9L437 181.7L437.4 182.6L436.1 183.6L435.9 184.1L435.7 185.8L434.4 185.9L433.4 186.1L431.8 185.6L430.7 186L430 186L428.1 185.3L427.1 185.1L425.7 185.4L424.6 184.9L424 184.5L422.4 184.7L421.3 184.3L420.8 183.3L419.5 182.9Z" fill="none" stroke="#2b2b2b" stroke-width="0.55"/>
<path d="M416.3 182.3L417.2 181.7L418.4 180.9L418.9 180.9L420.4 180.6L421.4 179.6L422.8 179L423.9 179L425.4 178.7L427.4 178.8L428.6 177.9L429.5 178.3L430.7 178L432.1 177.5L433.7 178L435.2 177.9L435.8 177.5L437.2 177.8L437.9 177.4L437.7 178.3L438.4 178.6L439.3 179.7L438.4 180.3L438 181.7L438.2 183.2L437.7 183.8L436.5 184.8L436 185.9L434.1 186.3L433.4 186L431.4 187.1L430.2 186.2L429.4 186.9L427.6 186.1L425.6 186.3L424.8 185.9L423.1 185.2L421.4 185.1L420.6 184.7L418.9 184.2L418.4 184.1L416.9 183.5Z" fill="none" stroke="#323232" stroke-width="0.55"/>
<path d="M413.1 182.4L414.5 182.2L415.9 181.4L416.8 180.1L418.6 179.9L419.8 179L421.1 179.2L422.5 178.1L424.2 177.9L426 177.7L427.2 177L429 177L430.7 177L432.4 176.8L433.7 177L435.7 176.9L435.9 176.7L437.9 177.5L438.3 176.9L438.5 177.4L439.1 178.8L440.5 178.7L439.2 180.9L439.4 182.4L438.7 183.9L438.2 184.8L437.2 185.8L436.1 187.1L434.2 186.8L432.9 187.2L431.8 187L429.8 187.3L428.2 187.3L427 187.2L424.9 186.5L423.6 186.6L421.5 185.5L419.6 185.7L417.9 185L416.6 184.4L415.9 184.3L414.3 182.8Z" fill="none" stroke="#383838" stroke-width="0.55"/>
<path d="M410.7 182.8L411.5 181.6L412.7 181.1L414 180L416.4 179.2L417.5 178.8L420 178.4L421.6 178.4L422.9 177.5L424.7 177.4L426.3 177.1L428.4 176.6L430 176.6L431.9 176.1L434.3 176.2L435.5 175.8L437.3 176.4L438.2 176.4L439.7 176.1L439.7 177.4L440.6 177.9L441.2 178.4L440.6 180.1L440.6 181.8L439.4 183.6L438.3 185.1L437.7 185.7L436.3 187.7L434.5 187.8L432.9 187.6L431.7 188.4L429.2 188.2L427.5 188.2L425.4 187.7L423.9 187.6L421.3 186.4L419.6 186.5L417.8 185.6L415.9 185.8L414.3 185.6L412.7 184.3L412 183.3Z" fill="none" stroke="#3f3f3f" stroke-width="0.55"/>
<path d="M408.2 182.9L408.9 181.2L411.2 180.7L411.7 180L414.1 179.6L416.1 178.7L418.3 177.8L420 177.9L422.2 177.1L423.6 176.9L425.5 176.5L427.6 175.8L430.2 175.5L431.5 175.1L433.9 175.2L435.6 174.9L437.6 175.5L438.6 175.2L440.3 176.3L440.9 176.5L441.5 177.4L441.6 178L441.6 179.7L440.8 181.8L440.4 183.8L439.8 185.7L438.2 186.3L437.4 188.3L434.5 188.6L432.5 189L431.1 189.4L429.1 188.5L427 189.1L424.9 188.6L422.5 188.2L420.2 187.3L417.5 187.4L416.1 186.9L414.2 185.8L411.6 186L411.1 184.9L409.2 183.6Z" fill="none" stroke="#464646" stroke-width="0.55"/>
<path d="M443.4 180.7L442.8 181.8L442.4 182.8L441.7 183.9L440.5 184.9L438.9 185.7L437.1 186.4L435 186.7L433 186.7L431.1 186.5L429.3 186.1L427.9 185.4L427.1 184.4L426.4 183.5L425.5 182.5L425.1 181.4L425.8 180.2L427.1 179.2L428.5 178.3L430.2 177.6L432.1 177.1L434 176.8L436 176.6L437.9 176.7L439.6 177.2L441.2 177.7L442.8 178.4L443.6 179.5Z" fill="#000"/>
<path d="M439.7 180.9L439.5 181.6L439.1 182.3L438.5 183L437.5 183.5L436.3 183.9L435 184.3L433.7 184.5L432.3 184.6L431 184.6L429.6 184.5L428.6 184.1L428 183.5L427.7 182.8L427.4 182.2L427.3 181.6L427.7 180.9L428.5 180.3L429.3 179.7L430.4 179.1L431.7 178.7L433.1 178.5L434.5 178.5L435.8 178.7L436.8 179L437.8 179.3L438.8 179.7L439.6 180.3Z" fill="#fff"/>
<line x1="427.7" y1="171.5" x2="463.5" y2="171.5" stroke="#000" stroke-width="0.9"/>
<line x1="427.7" y1="206.4" x2="463" y2="206.4" stroke="#000" stroke-width="0.9"/>
<rect x="463.5" y="138.25" width="50.8" height="51.5" fill="none" stroke="#999" stroke-width="0.6"/>
<line x1="461.9" y1="189.8" x2="463.5" y2="189.8" stroke="#aaa" stroke-width="0.5"/>
<line x1="463.5" y1="189.8" x2="463.5" y2="191.3" stroke="#aaa" stroke-width="0.5"/>
<line x1="461.9" y1="176.9" x2="463.5" y2="176.9" stroke="#aaa" stroke-width="0.5"/>
<line x1="476.2" y1="189.8" x2="476.2" y2="191.3" stroke="#aaa" stroke-width="0.5"/>
<line x1="461.9" y1="164" x2="463.5" y2="164" stroke="#aaa" stroke-width="0.5"/>
<line x1="488.9" y1="189.8" x2="488.9" y2="191.3" stroke="#aaa" stroke-width="0.5"/>
<line x1="461.9" y1="151.1" x2="463.5" y2="151.1" stroke="#aaa" stroke-width="0.5"/>
<line x1="501.6" y1="189.8" x2="501.6" y2="191.3" stroke="#aaa" stroke-width="0.5"/>
<line x1="461.9" y1="138.2" x2="463.5" y2="138.2" stroke="#aaa" stroke-width="0.5"/>
<line x1="514.3" y1="189.8" x2="514.3" y2="191.3" stroke="#aaa" stroke-width="0.5"/>
<line x1="479.5" y1="138.25" x2="479.5" y2="189.75" stroke="#999" stroke-width="0.6"/>
<line x1="479.5" y1="173.5" x2="514.3" y2="173.5" stroke="#999" stroke-width="0.6"/>
<path d="M467.8 190L467.8 188.2L468.2 187.3L468.5 186.2L468.5 185.9L468.2 184.5L469 183.6L469.6 182.2L468.9 181.4L468.4 180.1L469.4 179.4L469.6 178.4L469 177.2L469.1 176.4L470.4 176.8L471.1 176L471.8 175.7L472 175.9L472.8 174.7L473.5 175.7L474.4 175.4L475.1 175.3L475.8 176L475.7 176.8L477.4 176.9L477 177.4L477.5 177L478.5 178.3L477.6 178.7L477.4 179.9L477.5 180.5L477.2 180.9L476.7 181L476 181.8L476.4 182.5L476.3 183.6L476 184.6L476 186.3L476.3 188L475.7 189.1L472.8 189.5L470.4 189.3Z" fill="none" stroke="#1a1a1a" stroke-width="0.55"/>
<path d="M467.3 189.7L467 188.5L467.4 186.7L468 185.3L468.7 184.4L468.4 182.8L469.2 182L468.8 181.1L468.6 180L468.4 177.9L468.2 176.2L468.3 175.6L468.5 174.3L469 173.9L469.4 173L471 172.4L471.2 172L471.6 171.9L473.3 171.4L474.1 171.4L474.9 171.3L474.6 171.3L476.3 172.5L476.5 172.8L477.8 172.8L477.5 174.2L478 174.7L478.2 175.4L477.8 175.5L478.2 176.1L478.5 178L477.6 178.6L477.1 179L477.2 180.2L476.4 181.8L477.3 182.4L477.1 183.2L476.5 185.6L476.1 186.9L476.6 189.1L473.7 189.7L470.2 189.5Z" fill="none" stroke="#1a1a1a" stroke-width="0.55"/>
<path d="M466.7 189.1L466.8 188.2L467.5 185.9L467.9 185.1L467.3 183.5L468.1 181.5L468.5 180.9L468.1 178.8L468.7 176.9L468.7 175.6L468.6 173.5L468 172.6L468.3 171L469.7 170.1L469.7 168.5L469.9 167.7L471.7 168L471.6 166.9L473.4 167.6L473.7 167L474.5 168L475 168.1L476.1 168.3L477.5 168.2L477.5 168.9L477.8 170.5L478 171.4L478.8 171.8L478.9 172.2L478.4 173.4L478.4 174.3L478.3 175.6L478 177.1L477.8 178.7L477 179.6L477.4 180.5L477.1 182.3L477.4 184.8L476.9 187L476.8 189.7L474.1 188.9L470.4 189.8Z" fill="none" stroke="#1a1a1a" stroke-width="0.55"/>
<path d="M466 189.3L466.2 187.4L467.3 185.1L467.5 184L467 181.7L468.1 181.2L468.4 179.4L468.7 177.7L468.3 174.9L468.3 173.1L468.1 171.6L468.2 169.6L468.7 168.1L468.6 166.9L470.1 164.8L469.9 164.2L471 164.3L471.5 162.9L473.3 163.3L473.7 163.1L474.7 164L475.8 163.8L476 164.3L477.3 165.4L478.6 166L479 167.1L479.1 167.1L480 168.4L479.8 169.8L479.3 171L478.7 172.6L478.2 173.6L477.8 174.4L477.9 176.7L477.8 177.5L477.2 179.5L477.6 180.9L477.8 183.3L477.9 186.4L477.4 188.9L473.8 189.9L469.8 189Z" fill="none" stroke="#1a1a1a" stroke-width="0.55"/>
<path d="M465.9 189.6L466.6 187.6L466.2 184.7L467.1 183.1L467.4 181.7L467.8 179.1L468 177L468.4 175.1L467.9 172.4L468.3 170.4L467.4 168.7L468.4 165.9L468.4 163.9L468.5 163.5L470 161.2L469.6 160.2L470.7 160.2L471.5 159.2L473.2 159L474.1 159.1L475.3 159.9L475.7 160.1L476.8 160.6L478.2 161.7L478.8 162.6L479 163.7L479.4 164.2L480.2 165.1L479.6 166.7L479.2 168.2L479.9 169.6L479 171.6L479.1 172.5L478.5 173.7L477.7 176.4L478 177.4L477.2 179.9L477.7 183L477.5 186.4L477.9 189.1L474.2 189.9L469.3 189.1Z" fill="none" stroke="#1a1a1a" stroke-width="0.55"/>
<path d="M465.2 189.9L465.6 187.2L466 184.9L466.7 181.5L467.6 180.4L467.4 178L468.3 176.3L468.2 173.9L468.2 170.4L466.9 167.7L467.3 166L468.2 163.9L468.4 161.3L469.3 159.8L469.2 158.4L470.4 156.3L470.7 155.6L471.5 155.8L473.6 155.4L474.1 155.8L474.9 155.5L475.4 155.6L477.2 156.7L478.6 157.1L479.4 158.9L479.6 159.8L480.2 160.3L480.4 162.6L480.3 163.2L480.1 164.8L480.2 166.8L480.1 169.2L479.1 169.9L478.5 172.3L477.9 173.7L478 176.4L477.6 177.7L478.4 181.6L478.3 185.2L478 189L473.9 189.1L469.3 190Z" fill="none" stroke="#1a1a1a" stroke-width="0.55"/>
<path d="M473.9 163.5L474.4 163.1L474.9 163.6L475.5 164.4L475.7 165.8L475.6 167L475 167.2L475.2 169L474.7 169.7L474.1 169L473.6 168.2L473.3 167.1L473 166.1L472.9 164.9L472.6 163.1L473.5 163.5Z" fill="none" stroke="#1a1a1a" stroke-width="0.6"/>
<path d="M474.1 167.3L474.8 167.4L475.2 168.8L475.1 170.4L475.9 171.2L475.7 172.5L475.5 173.9L475 174.9L474.3 174.1L473.8 173.8L473.2 173.7L472.4 173L472.9 171.3L472.9 170L473.2 169.1L473.7 168.6Z" fill="none" stroke="#1a1a1a" stroke-width="0.6"/>
<path d="M470 168.9L470.5 169.1L470.7 169.8L470.7 170.4L471.3 171.2L470.5 171.8L469.9 172L469.4 172L468.7 172.5L468.3 172.1L467.8 171.6L467.6 170.8L468.5 170.2L468.4 169.5L468.8 168.8L469.4 168.4Z" fill="none" stroke="#1a1a1a" stroke-width="0.6"/>
<path d="M474.3 162.9L474.9 163.2L474.4 164.4L474.3 165L474.3 165.8L474 166.9L473.2 166.9L472.5 167.3L472.2 166.9L472 166.4L471.2 166.2L471.3 165.3L471.9 164.5L472.6 164.2L473 163.2L473.6 163.2Z" fill="none" stroke="#1a1a1a" stroke-width="0.6"/>
<path d="M468.5 172.9L469 174L469.4 173.8L470 174.3L470.3 175.4L470.1 176.4L470.1 177.1L470.1 178L469.7 178L469.3 178.9L468.8 177.8L468.6 176.7L468.3 175.9L467.8 174.8L467.8 173.9L468.2 173.5Z" fill="none" stroke="#1a1a1a" stroke-width="0.6"/>
<path d="M471.1 166.6L471.3 167.5L472.1 167.7L472.3 168.3L472.5 169L472.1 169.6L471.4 169.8L470.6 169.5L470.1 169.4L469 169.6L468.8 168.8L468.6 168.2L468.9 167.6L469.2 167.2L469.7 166.9L470.3 166.3Z" fill="none" stroke="#1a1a1a" stroke-width="0.6"/>
<path d="M477.6 157.5L478 157.8L478.4 158.3L478.7 159.3L478.5 160.7L478.1 161.6L477.9 162.5L477.7 164.5L477.1 163.7L476.7 163.5L476.5 162.6L476.5 161.5L476.2 160.5L476.2 159.1L476.7 158L477.2 158.7Z" fill="none" stroke="#1a1a1a" stroke-width="0.6"/>
<path d="M478.4 157.7L479 157.7L479.7 158L479.9 159.2L479.2 160.6L478.9 162.1L478 162.1L477.4 163.1L476.4 164.3L475.9 163.4L476 162L476.1 160.8L476 159.6L476.7 158.6L477.1 156.8L478 156.6Z" fill="none" stroke="#1a1a1a" stroke-width="0.6"/>
<path d="M472.6 157.9L473.3 157.6L473.9 158.1L475 158L475.4 158.8L474.6 159.6L474.6 160.3L474.2 160.9L473.6 161.5L472.7 161.4L471.8 161.4L471.8 160.4L471.5 159.8L470.6 159.2L471.1 158.4L471.8 157.9Z" fill="none" stroke="#1a1a1a" stroke-width="0.6"/>
<path d="M474.1 157.7L474.2 159L473.9 160.5L474.3 161.1L474.1 162.3L473.7 163.7L473 164.5L472.4 165.2L472.1 164L471.5 164.6L470.7 164.4L471.2 162.8L471.5 161.5L472.1 160.6L472.6 159.5L473.1 159.1Z" fill="none" stroke="#1a1a1a" stroke-width="0.6"/>
<path d="M475.8 169L476.3 169.8L476.4 171.6L476.9 172L477.1 173.3L477.2 174.8L476.7 175.6L476.4 176.6L475.9 175.7L475.4 176.1L474.7 176.4L474.6 174.6L474.7 173.3L474.9 172.2L474.9 170.9L475.4 170.4Z" fill="none" stroke="#1a1a1a" stroke-width="0.6"/>
<path d="M470.2 156.7L470.7 156.7L471 157.5L471 158.6L471.2 159.3L471.1 160.1L471 161L470.8 162.2L470.3 161.4L470 161.1L469.7 160.8L469.2 160.4L469.3 159.3L469.3 158.4L469.6 157.7L470 157.8Z" fill="none" stroke="#1a1a1a" stroke-width="0.6"/>
<path d="M477.1 159.6L477.5 160.4L477.6 161.5L478.2 161.8L478.5 163L478.1 164L477.9 165.3L477.3 165L476.9 165.4L476.4 165.7L475.8 165.5L475.9 163.9L476 162.9L475.9 161.8L476.3 161.1L476.5 159.7Z" fill="none" stroke="#1a1a1a" stroke-width="0.6"/>
<path d="M473.9 170.8L474.6 171.1L475.9 171.1L476.1 171.9L475.7 172.5L475.2 172.9L475.3 173.8L474.5 174L473.6 174.1L472.6 174L472.6 173L472 172.7L471.4 172L471.3 171.2L472.5 171.1L473.2 170.8Z" fill="none" stroke="#1a1a1a" stroke-width="0.6"/>
<path d="M475.7 157.7L476.5 157.5L476.7 158.3L476.4 159.2L475.7 159.7L475.8 160.7L475.1 161.3L474.4 161.4L473.7 161.5L473.7 160.5L473.5 160L473.3 159.4L473.1 158.4L474.1 158.1L474.7 157.6L475.3 157.4Z" fill="none" stroke="#1a1a1a" stroke-width="0.6"/>
<path d="M469.3 162.9L470 164L470.4 163.8L471.1 164L471.3 165.2L471.4 166.2L471.2 166.8L471.2 167.6L470.8 167.7L470.5 168.7L469.8 167.6L469.6 166.5L469.1 165.9L468.8 164.9L468.7 163.9L469 163.5Z" fill="none" stroke="#1a1a1a" stroke-width="0.6"/>
<path d="M474.6 160.9L475.4 161.1L475.4 162.7L476.1 163L476.3 163.9L476.3 164.9L475.9 165.8L475.2 166.2L474.5 165.8L473.9 165.6L472.8 166.1L472.7 164.8L472.7 163.8L473 163L473.4 162.3L473.9 161.7Z" fill="none" stroke="#1a1a1a" stroke-width="0.6"/>
<path d="M474.9 173.7L475.3 174.1L475.2 174.8L475 175.5L475.1 176.2L474.6 176.7L474.3 177.6L473.7 177.8L473.5 177.1L473.2 176.9L472.8 176.7L472.6 176.1L473.1 175.4L473.3 174.6L473.9 174.5L474.3 174.3Z" fill="none" stroke="#1a1a1a" stroke-width="0.6"/>
<path d="M476.1 160.2L476.3 161.4L476.4 162.3L477 163.1L476.8 164.6L475.8 165.7L474.9 165.8L474.2 167.3L473.6 166.8L472.6 167L472.2 166L472.9 164.4L473.4 163.3L473.6 162L474.3 160.2L475.2 160.7Z" fill="none" stroke="#1a1a1a" stroke-width="0.6"/>
<path d="M471.6 156.7L472.5 156.5L472.5 158.5L473 159.1L473.5 160.2L473.6 161.8L472.7 162.4L472.2 163.1L471.5 163.3L471 162.6L469.9 163.1L469.6 161.6L469.9 160.2L470.3 159.2L470.2 157.7L470.9 157Z" fill="none" stroke="#1a1a1a" stroke-width="0.6"/>
<path d="M465.6 189.6 L467.5 184 L469.3 180 L473 179.4 L476 180.5 L477.5 184 L478 189.6 Z" fill="#111"/>
<ellipse cx="471.9" cy="185.6" rx="0.9" ry="1.9" fill="#fff"/>
<rect x="463.8" y="198.5" width="50.6" height="51.25" fill="none" stroke="#999" stroke-width="0.6"/>
<line x1="462.2" y1="249.8" x2="463.8" y2="249.8" stroke="#aaa" stroke-width="0.5"/>
<line x1="463.8" y1="249.8" x2="463.8" y2="251.3" stroke="#aaa" stroke-width="0.5"/>
<line x1="462.2" y1="236.9" x2="463.8" y2="236.9" stroke="#aaa" stroke-width="0.5"/>
<line x1="476.4" y1="249.8" x2="476.4" y2="251.3" stroke="#aaa" stroke-width="0.5"/>
<line x1="462.2" y1="224.1" x2="463.8" y2="224.1" stroke="#aaa" stroke-width="0.5"/>
<line x1="489.1" y1="249.8" x2="489.1" y2="251.3" stroke="#aaa" stroke-width="0.5"/>
<line x1="462.2" y1="211.3" x2="463.8" y2="211.3" stroke="#aaa" stroke-width="0.5"/>
<line x1="501.8" y1="249.8" x2="501.8" y2="251.3" stroke="#aaa" stroke-width="0.5"/>
<line x1="462.2" y1="198.5" x2="463.8" y2="198.5" stroke="#aaa" stroke-width="0.5"/>
<line x1="514.4" y1="249.8" x2="514.4" y2="251.3" stroke="#aaa" stroke-width="0.5"/>
<line x1="478.6" y1="198.5" x2="478.6" y2="249.75" stroke="#999" stroke-width="0.6"/>
<line x1="463.8" y1="233.5" x2="514.4" y2="233.5" stroke="#999" stroke-width="0.6"/>
<path d="M466.9 248.8L466.4 248.3L467.1 246.4L466.7 245.7L467.5 243.9L467.1 242.8L468.3 240.9L468.5 239.2L469.2 238.1L470.2 237.6L471.4 235.8L472.2 235L472.6 234L473.4 232.9L473.7 231.9L474.4 231.4L474.8 231.2L475.2 231.1L476.2 229.9L475.9 230.8L477 230.6L477.6 230.4L478.8 230L478.6 231L479.5 231.5L480 231.2L480.2 232.1L480.5 232.3L480.4 232.3L480.2 232.9L480 234.6L479 234.7L477.9 235.5L477.4 236.3L477.1 236.5L477.4 238.2L476.7 239.5L477 239.5L476.1 241.3L476.6 242.5L476.5 242.8L476.6 244.1L475.6 244.7L476.3 246.5L476.3 248L475.5 249.6L472.9 248.9L469.4 249.2Z" fill="none" stroke="#1a1a1a" stroke-width="0.55"/>
<path d="M465.6 249.1L466.4 246.9L466.5 245.8L466.8 244.6L466.7 242.6L467.5 240.7L468.1 239.1L468.4 237.1L469.5 235.5L470.5 233.7L470.7 232.6L471.2 231.5L472.2 229.2L473.4 228.6L473.8 227.3L474.6 226.6L474.4 226.3L475 225.7L476.1 224.9L476.4 225.5L478.1 225.3L478.6 224.9L479.4 225.3L479.7 225.6L480.4 225.8L481.2 227L480.9 226.7L482.1 227.5L481.6 228.6L480.8 228.6L479.9 229.6L479.6 230.6L478.9 231L478.4 232.1L477.6 233.8L477.5 235.3L477.4 236.8L477.1 237.2L477.2 238.3L476.4 239.8L476.7 241.8L476.9 242.9L476.1 244.3L476.5 245.5L475.9 247.6L476.8 249.3L472.8 248.6L468.9 249.3Z" fill="none" stroke="#1a1a1a" stroke-width="0.55"/>
<path d="M465.5 248.8L466.1 247L466 245L466.4 243.2L467.2 240.8L467.1 238.7L468 236.4L468.2 234.3L468.9 232.2L469.9 230.4L471.2 228.6L472.1 226.9L472.5 225.1L473.8 223.7L474.3 223.2L474.2 221.3L475.8 221.2L475.6 220.7L476.9 219.7L476.7 220.1L478.5 220.2L478.3 219.8L479.7 220.5L479.8 220.9L480.9 221.6L481.7 221.4L481.9 222.7L482.7 222.8L482.4 223.9L481.3 224L480.6 226L480.2 227.1L479.7 227.7L479 228.7L478.3 230.8L478 232.1L477.3 233.6L477.1 235.3L477.8 236.7L476.7 237.8L477.3 240L477.1 240.8L476.5 243.5L476.5 245.3L476.9 246.6L476.4 249.1L472.9 248.4L469.6 249.5Z" fill="none" stroke="#1a1a1a" stroke-width="0.55"/>
<path d="M464.9 249.1L465.3 246.8L465.6 243.9L465.2 241.6L466.5 239.5L467.4 236.9L467.8 234.9L468 232.5L469.2 230.1L470.6 226.9L470.5 226L471.5 224L473.1 221.2L474.1 220.4L473.6 218.7L475.2 216.5L475.5 215.7L476.5 214.9L476.5 214.3L477.6 214L479.1 214.5L479.6 215.2L480.1 214.6L480.4 215.7L481.7 216.5L482.3 217L482.4 217.2L483.2 218.3L483.3 219.6L482.4 220.3L481.1 221L481.3 222.6L479.8 223.6L479.4 225.5L479.4 226.9L478.4 229L477.9 231.2L478.4 231.9L478 234.5L477.3 236.1L477 237.8L477.9 240.5L477.3 242.6L476.7 244.3L476.9 247.1L477.6 249.2L472.8 249.5L469.4 249.4Z" fill="none" stroke="#1a1a1a" stroke-width="0.55"/>
<path d="M464.4 249.5L465.4 246.2L465.4 243.8L465.6 241.6L465.7 238.1L466.2 234.7L467.1 232.7L467.9 229.3L469.7 227.3L469.9 223.7L471 221.6L472.2 220L472.8 217.2L473.1 214.9L474.3 214.1L474.8 211.3L475.7 210.7L476.5 210.5L477.4 209.1L477.7 209L479.5 209.2L480.5 209.3L480.8 209.9L481.7 210.5L482.1 210.7L483.4 212.3L483.3 212.5L483.6 213.5L483.9 215L482.9 215.6L481.8 217.1L481.2 218.5L481 219.9L479.6 221.5L479.9 223.4L478.6 225.4L478.2 228.1L478.3 229.6L478.3 231.8L477.6 234.6L478.2 236.1L477.8 239L477.5 241L477.2 243.6L477.8 246L477.6 248.8L473 248.5L468.8 248.4Z" fill="none" stroke="#1a1a1a" stroke-width="0.55"/>
<path d="M464.1 249.1L464.6 246L464.3 242.7L465.1 240.1L465.2 236.1L466.8 232.8L466.9 229.6L468.1 227L468.8 223.6L470.1 221.6L471.5 218.5L472.5 215.6L472.6 212.6L473.5 210.6L474.7 209.3L475.9 207.2L476.6 206.5L477.3 204.6L477.9 203.6L478.1 204L479.8 203.8L481.1 204.4L481.7 204.8L481.8 205.8L482.4 206.6L483.4 207L484.2 207.5L484.7 208.8L484.1 210L484.2 212L483.1 213.4L481.6 214.8L481.7 216.5L480.4 218.2L479.9 220.5L479.5 222.5L478.8 224.9L478.2 227.5L479.2 229.4L479 231.4L478.4 234.3L478.7 237.2L477.8 240.1L478 242.9L478.2 245.7L478.6 248.7L473 248.6L469.6 248.7Z" fill="none" stroke="#1a1a1a" stroke-width="0.55"/>
<path d="M472.7 236.3L473.4 236.4L474 236.8L473.9 237.5L473.3 237.9L473 238.3L472.8 239L472.1 238.8L471.4 238.9L471 238.3L471.1 237.7L470.7 237.2L470.5 236.5L470.9 236L471.7 236.1L472.2 235.8Z" fill="none" stroke="#1a1a1a" stroke-width="0.6"/>
<path d="M477.6 225.4L478.5 225.5L477.9 226.6L477.8 227.2L477.9 227.9L477.5 228.6L476.8 229L476.1 228.9L475.6 228.7L475.6 227.9L474.7 227.7L474.6 226.9L475.3 226.3L475.8 225.9L476.4 225.5L477 225.2Z" fill="none" stroke="#1a1a1a" stroke-width="0.6"/>
<path d="M476.6 221.3L477.5 220.6L477.2 221.9L476.9 222.8L476.7 223.6L476.2 224.4L475.7 225.3L475.1 225.8L474.6 225.9L474.9 224.5L474.4 224.5L474.3 223.8L474.7 222.8L475.2 221.8L475.8 221.5L476.2 221.3Z" fill="none" stroke="#1a1a1a" stroke-width="0.6"/>
<path d="M473.7 230.8L474 230.9L474.5 230.9L474.4 232L474.6 233L474.1 233.9L473.7 234.3L473.4 234.7L472.8 235.8L472.4 235.4L472.5 234.2L472.2 233.6L472.6 232.6L472.6 231.6L472.8 230.5L473.4 230Z" fill="none" stroke="#1a1a1a" stroke-width="0.6"/>
<path d="M471.6 232.4L472.1 232.9L472.3 234.3L472.9 234.4L473.1 235.4L473.3 236.5L473 237.2L472.7 237.8L472.3 237.5L471.9 237.7L471.3 238.1L471.1 236.6L471 235.7L471.1 234.8L471 233.8L471.3 233.3Z" fill="none" stroke="#1a1a1a" stroke-width="0.6"/>
<path d="M471.3 242L471.5 242.5L471.8 242.8L471.7 243.6L472.2 244.4L471.8 245.3L471.3 245.5L470.9 245.9L470.5 246.3L470.1 246.3L469.9 245.6L469.6 244.9L470.2 244L470.2 243.3L470.4 242.3L470.8 241.8Z" fill="none" stroke="#1a1a1a" stroke-width="0.6"/>
<path d="M475.5 220.3L475.8 220.8L476.2 220.5L476.6 221.4L476.6 222.6L476.4 223.3L476.6 224.4L476.4 225L476 225.3L475.6 225.5L475.4 224.2L475.1 223.5L474.8 222.8L474.5 221.5L474.9 221.1L475.1 220.5Z" fill="none" stroke="#1a1a1a" stroke-width="0.6"/>
<path d="M477 220L477.6 220.3L478.1 220.6L479.1 221L478.5 221.8L478 222.2L477.7 222.8L477 222.7L476.3 223.2L475.5 222.9L475.1 222.3L475.6 221.5L475 221L475 220.2L475.7 219.9L476.3 219.4Z" fill="none" stroke="#1a1a1a" stroke-width="0.6"/>
<path d="M481 208L481.7 208.1L481.8 208.8L482.5 209.6L482.1 210.3L481 210.3L480.7 210.9L480 211.2L479.2 211.2L478.8 210.4L478.3 209.8L478.9 209.1L478.9 208.5L478.8 207.4L479.7 207.3L480.5 207.5Z" fill="none" stroke="#1a1a1a" stroke-width="0.6"/>
<path d="M475 227L475.6 226.1L475.8 227.2L475.9 228.1L475.7 229.1L475.6 230L475.2 230.6L474.9 231.9L474.4 231.9L474.2 230.6L473.8 230.5L473.7 229.7L473.5 228.8L473.8 227.8L474.1 226.9L474.6 227.2Z" fill="none" stroke="#1a1a1a" stroke-width="0.6"/>
<path d="M481.2 209.5L481.7 210.2L482.2 210.5L482.5 211.1L482.9 211.7L482.8 212.4L482.7 213.3L481.6 212.9L481.2 213.1L480.5 213.5L479.9 213L479.5 212.4L479.6 211.7L479.8 211L480.3 210.7L480.4 209.5Z" fill="none" stroke="#1a1a1a" stroke-width="0.6"/>
<path d="M478.2 222.7L478.5 223.1L478.2 224L477.7 224.8L477.7 225.5L477.3 226.4L476.7 226.7L476 227.3L476 226.6L475.8 226.3L475.5 226.1L475.4 225.4L476.1 224.5L476.6 224.1L477.1 223.3L477.5 223.4Z" fill="none" stroke="#1a1a1a" stroke-width="0.6"/>
<path d="M472 233.3L472.4 233.4L473.2 233.4L473 234.4L472.8 235.2L472.6 236L472 236.1L471.6 237.1L470.9 237.3L470.5 236.8L470.6 235.7L470.2 235.3L470.2 234.5L470.6 233.8L470.9 232.8L471.5 233.1Z" fill="none" stroke="#1a1a1a" stroke-width="0.6"/>
<path d="M470.5 242.6L471.1 242.2L471.4 242.8L471.9 243.2L471.8 244L471.3 244.4L471.4 245.1L471 245.7L470.4 245.9L469.9 245.2L469.4 245.1L469.3 244.4L469.1 243.9L468.8 243L469.5 242.7L470 242.6Z" fill="none" stroke="#1a1a1a" stroke-width="0.6"/>
<path d="M477.2 224.5L477.5 225.1L477.8 225.6L478.1 226.6L477.3 227.8L476.5 228.4L476 229L475.1 230.6L474.7 229.9L474.2 229.6L474.2 228.6L474.7 227.5L474.7 226.6L475.1 225.2L475.9 224.3L476.4 225.1Z" fill="none" stroke="#1a1a1a" stroke-width="0.6"/>
<path d="M474 231.8L474.6 232.2L474.8 232.8L474.9 233.4L475.3 233.9L475.1 234.5L475.1 235.3L474.6 235.6L474 235.1L473.6 235.2L473.1 235.1L472.7 234.7L472.9 233.9L472.9 233.2L473.3 232.9L473.6 232.6Z" fill="none" stroke="#1a1a1a" stroke-width="0.6"/>
<path d="M477.7 224.6L478.3 224.3L478.1 225.1L478.2 225.7L477.9 226.7L477.2 227.2L476.7 227.5L476.2 228.1L475.5 228.8L475.6 227.8L475.4 227.4L475.8 226.5L476.2 225.8L476.5 224.8L477.1 223.9L477.6 223.9Z" fill="none" stroke="#1a1a1a" stroke-width="0.6"/>
<path d="M476.1 220.8L476.7 221L477.3 221.3L477.3 221.9L477.3 222.4L477.5 222.9L477.5 223.7L476.5 223.4L476 223.5L475.5 223.5L475 223.2L474.4 222.9L474.2 222.3L474.7 221.8L475.4 221.7L475.4 220.9Z" fill="none" stroke="#1a1a1a" stroke-width="0.6"/>
<path d="M479.9 211.6L480.3 211.8L480.6 212.1L480.6 212.8L480.5 213.4L480.2 213.8L480.1 214.5L479.8 215.4L479.5 214.8L479.2 214.7L479 214.2L478.9 213.8L478.9 213.2L478.8 212.4L479.3 212L479.6 212.3Z" fill="none" stroke="#1a1a1a" stroke-width="0.6"/>
<path d="M479.6 214L480.4 214.1L480.4 215.4L480.6 216.2L480.7 217.1L480.3 217.8L480.3 219.3L479.5 219.5L478.9 219L478.5 218.6L477.8 218.6L477.5 217.7L477.7 216.6L477.8 215.5L478.6 215.5L479 214.7Z" fill="none" stroke="#1a1a1a" stroke-width="0.6"/>
<path d="M480.9 206.7L481.2 207.4L481.1 208.5L481.3 209.2L481.4 210.4L480.7 211.5L479.7 211.2L479 212L478.3 211.7L477.7 211.5L477 210.9L477.4 209.7L478.2 208.8L478.7 208.1L479.2 206.5L480 206.7Z" fill="none" stroke="#1a1a1a" stroke-width="0.6"/>
<path d="M473.8 235.3L473.9 235.9L474.5 236L474.5 236.9L473.6 237.6L473.2 238.3L472.6 238.6L472 239.1L471.5 239.1L470.9 238.9L471.4 237.8L471.7 237.1L471.5 236.3L472.2 235.7L472.8 235L473.4 235.1Z" fill="none" stroke="#1a1a1a" stroke-width="0.6"/>
<path d="M472 234.1L472.5 234.5L473.2 234.8L473.7 235.4L473.3 236.1L472.7 236.5L472.4 236.9L472 237.9L471.3 237.4L470.6 237.2L470.3 236.6L470.2 236L469.9 235.4L469.8 234.6L470.5 234.1L471.4 234.6Z" fill="none" stroke="#1a1a1a" stroke-width="0.6"/>
<path d="M470.9 240.2L471.4 240.3L471.3 241.9L471.6 242.3L471.7 243.1L471.7 244.1L471.3 244.8L471 245.4L470.6 244.9L470.4 244.6L469.7 245.1L469.7 243.9L469.8 243L470 242.2L470.2 241.4L470.5 241.1Z" fill="none" stroke="#1a1a1a" stroke-width="0.6"/>
<path d="M465.5 248.6 L465.9 238 L466.5 238 L466.7 248.6Z" fill="#333"/>
<path d="M467.7 248.6 L468.1 236.8 L468.7 236.8 L468.9 248.6Z" fill="#333"/>
<path d="M469.9 248.6 L470.3 235.6 L470.9 235.6 L471.1 248.6Z" fill="#333"/>
<path d="M472.1 248.6 L472.5 234.4 L473.1 234.4 L473.3 248.6Z" fill="#333"/>
<path d="M474.3 248.6 L474.7 233.2 L475.3 233.2 L475.5 248.6Z" fill="#333"/>
<path d="M476.5 248.6 L476.9 232 L477.5 232 L477.7 248.6Z" fill="#333"/>
<line x1="361.8" y1="92.3" x2="448.5" y2="92.3" stroke="#aaa" stroke-width="0.6"/>
<line x1="361.8" y1="224.6" x2="444" y2="224.6" stroke="#aaa" stroke-width="0.6"/>
<g font-size="10.5" text-anchor="middle"><text x="363.3" y="30.1">Control</text><text x="424.6" y="30.1">CpG</text><text x="363.3" y="163.9">Control</text><text x="424.6" y="163.9">CpG</text></g>
<g font-size="6.8"><text x="359" y="44.3">B</text><text x="358.4" y="176.1">B</text></g>
<g font-size="7.6"><text x="338.4" y="94.9">CD19</text><text x="338.4" y="226.8">CD19</text><text x="465.6" y="127.8">CD11b</text><text x="464.2" y="259.8">CD11b</text></g>
<g font-size="7.4" text-anchor="middle"><text transform="translate(334 78.3) rotate(-90)">B220</text><text transform="translate(334 209) rotate(-90)">B220</text></g><g font-size="7.8" text-anchor="middle"><text transform="translate(458.7 107.1) rotate(-90)">CD11c</text><text transform="translate(460 236.3) rotate(-90)">CD11c</text></g>
<g font-size="7.6"><text x="464.2" y="19">pDC + NK-like</text><text x="491" y="26.8">IKDC</text><text x="464" y="150.3">pDC + NK-like</text><text x="491.2" y="158.2">IKDC</text></g><g font-size="8"><text x="490.4" y="79.6">cDC</text><text x="491.6" y="212.4">cDC</text></g>

</svg>
</body></html>
